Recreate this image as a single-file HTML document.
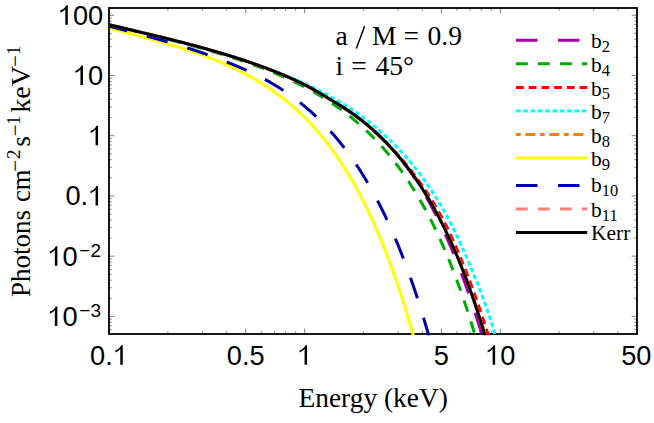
<!DOCTYPE html>
<html><head><meta charset="utf-8"><title>plot</title>
<style>
html,body{margin:0;padding:0;background:#fff;}
svg{display:block;}
text{fill:#000;}
.sans{font-family:"Liberation Sans",sans-serif;font-size:27.2px;}
.sanssup{font-family:"Liberation Sans",sans-serif;font-size:19px;}
.serif{font-family:"Liberation Serif",serif;}
.sub{font-size:16.5px;}
</style></head><body>
<svg width="654" height="423" viewBox="0 0 654 423">
<rect x="0" y="0" width="654" height="423" fill="#fff"/>
<defs><clipPath id="c"><rect x="110" y="9" width="526" height="326.3"/></clipPath></defs>

<path d="M109.00,334v-5.3M109.00,8v5.3M167.89,334v-2.7M167.89,8v2.7M202.34,334v-2.7M202.34,8v2.7M226.78,334v-2.7M226.78,8v2.7M245.74,334v-5.3M245.74,8v5.3M261.23,334v-2.7M261.23,8v2.7M274.33,334v-2.7M274.33,8v2.7M285.67,334v-2.7M285.67,8v2.7M295.68,334v-2.7M295.68,8v2.7M304.63,334v-5.3M304.63,8v5.3M363.52,334v-2.7M363.52,8v2.7M397.97,334v-2.7M397.97,8v2.7M422.41,334v-2.7M422.41,8v2.7M441.37,334v-5.3M441.37,8v5.3M456.86,334v-2.7M456.86,8v2.7M469.96,334v-2.7M469.96,8v2.7M481.30,334v-2.7M481.30,8v2.7M491.31,334v-2.7M491.31,8v2.7M500.26,334v-5.3M500.26,8v5.3M559.15,334v-2.7M559.15,8v2.7M593.60,334v-2.7M593.60,8v2.7M618.04,334v-2.7M618.04,8v2.7M637.00,334v-5.3M637.00,8v5.3M109,329.76h2.7M637,329.76h-2.7M109,325.73h2.7M637,325.73h-2.7M109,322.24h2.7M637,322.24h-2.7M109,319.16h2.7M637,319.16h-2.7M109,316.40h5.3M637,316.40h-5.3M109,298.27h2.7M637,298.27h-2.7M109,287.66h2.7M637,287.66h-2.7M109,280.14h2.7M637,280.14h-2.7M109,274.30h2.7M637,274.30h-2.7M109,269.53h2.7M637,269.53h-2.7M109,265.50h2.7M637,265.50h-2.7M109,262.01h2.7M637,262.01h-2.7M109,258.93h2.7M637,258.93h-2.7M109,256.17h5.3M637,256.17h-5.3M109,238.04h2.7M637,238.04h-2.7M109,227.43h2.7M637,227.43h-2.7M109,219.91h2.7M637,219.91h-2.7M109,214.07h2.7M637,214.07h-2.7M109,209.30h2.7M637,209.30h-2.7M109,205.27h2.7M637,205.27h-2.7M109,201.78h2.7M637,201.78h-2.7M109,198.70h2.7M637,198.70h-2.7M109,195.94h5.3M637,195.94h-5.3M109,177.81h2.7M637,177.81h-2.7M109,167.20h2.7M637,167.20h-2.7M109,159.68h2.7M637,159.68h-2.7M109,153.84h2.7M637,153.84h-2.7M109,149.07h2.7M637,149.07h-2.7M109,145.04h2.7M637,145.04h-2.7M109,141.55h2.7M637,141.55h-2.7M109,138.47h2.7M637,138.47h-2.7M109,135.71h5.3M637,135.71h-5.3M109,117.58h2.7M637,117.58h-2.7M109,106.97h2.7M637,106.97h-2.7M109,99.45h2.7M637,99.45h-2.7M109,93.61h2.7M637,93.61h-2.7M109,88.84h2.7M637,88.84h-2.7M109,84.81h2.7M637,84.81h-2.7M109,81.32h2.7M637,81.32h-2.7M109,78.24h2.7M637,78.24h-2.7M109,75.48h5.3M637,75.48h-5.3M109,57.35h2.7M637,57.35h-2.7M109,46.74h2.7M637,46.74h-2.7M109,39.22h2.7M637,39.22h-2.7M109,33.38h2.7M637,33.38h-2.7M109,28.61h2.7M637,28.61h-2.7M109,24.58h2.7M637,24.58h-2.7M109,21.09h2.7M637,21.09h-2.7M109,18.01h2.7M637,18.01h-2.7M109,15.25h5.3M637,15.25h-5.3" stroke="#000" stroke-width="0.5" fill="none"/>
<rect x="109" y="8" width="528" height="326" fill="none" stroke="#000" stroke-width="1.8"/>
<g clip-path="url(#c)" fill="none" stroke-width="3">
<path d="M109.00,24.78 L109.46,24.88 L109.91,24.98 L110.37,25.08 L110.83,25.18 L111.28,25.28 L111.74,25.38 L112.20,25.48 L112.66,25.58 L113.11,25.68 L113.57,25.79 L114.03,25.89 L114.48,25.99 L114.94,26.10 L115.40,26.20 L115.85,26.31 L116.31,26.41 L116.77,26.51 L117.23,26.62 L117.68,26.73 L118.14,26.83 L118.60,26.94 L119.05,27.04 L119.51,27.15 L119.97,27.26 L120.42,27.37 L120.88,27.47 L121.34,27.58 L121.80,27.69 L122.25,27.80 L122.71,27.91 L123.17,28.02 L123.62,28.13 L124.08,28.23 L124.54,28.34 L124.99,28.45 L125.45,28.56 L125.91,28.67 L126.37,28.78 L126.82,28.89 L127.28,29.00 L127.74,29.11 L128.19,29.22 L128.65,29.33 L129.11,29.44 L129.56,29.55 L130.02,29.66 L130.48,29.77 L130.93,29.88 L131.39,29.99 L131.85,30.11 L132.31,30.22 L132.76,30.33 L133.22,30.44 L133.68,30.55 L134.13,30.66 L134.59,30.77 L135.05,30.88 L135.50,30.99 L135.96,31.10 L136.42,31.21 L136.88,31.32 L137.33,31.43 L137.79,31.54 L138.25,31.65 L138.70,31.76 L139.16,31.87 L139.62,31.98 L140.07,32.09 L140.53,32.20 L140.99,32.31 L141.45,32.42 L141.90,32.53 L142.36,32.64 L142.82,32.75 L143.27,32.86 L143.73,32.97 L144.19,33.08 L144.64,33.19 L145.10,33.30 L145.56,33.41 L146.02,33.52 L146.47,33.63 L146.93,33.74 L147.39,33.85 L147.84,33.96 L148.30,34.07 L148.76,34.18 L149.21,34.29 L149.67,34.40 L150.13,34.50 L150.58,34.61 L151.04,34.72 L151.50,34.83 L151.96,34.94 L152.41,35.05 L152.87,35.16 L153.33,35.27 L153.78,35.38 L154.24,35.49 L154.70,35.60 L155.15,35.71 L155.61,35.82 L156.07,35.93 L156.53,36.04 L156.98,36.16 L157.44,36.27 L157.90,36.38 L158.35,36.49 L158.81,36.60 L159.27,36.71 L159.72,36.82 L160.18,36.93 L160.64,37.04 L161.10,37.15 L161.55,37.26 L162.01,37.38 L162.47,37.49 L162.92,37.60 L163.38,37.71 L163.84,37.82 L164.29,37.93 L164.75,38.05 L165.21,38.16 L165.67,38.27 L166.12,38.38 L166.58,38.50 L167.04,38.61 L167.49,38.72 L167.95,38.83 L168.41,38.95 L168.86,39.06 L169.32,39.17 L169.78,39.29 L170.24,39.40 L170.69,39.52 L171.15,39.63 L171.61,39.74 L172.06,39.86 L172.52,39.97 L172.98,40.09 L173.43,40.20 L173.89,40.32 L174.35,40.43 L174.80,40.55 L175.26,40.66 L175.72,40.78 L176.18,40.89 L176.63,41.01 L177.09,41.12 L177.55,41.24 L178.00,41.36 L178.46,41.47 L178.92,41.59 L179.37,41.71 L179.83,41.82 L180.29,41.94 L180.75,42.06 L181.20,42.17 L181.66,42.29 L182.12,42.41 L182.57,42.53 L183.03,42.65 L183.49,42.76 L183.94,42.88 L184.40,43.00 L184.86,43.12 L185.32,43.24 L185.77,43.36 L186.23,43.48 L186.69,43.60 L187.14,43.72 L187.60,43.84 L188.06,43.96 L188.51,44.08 L188.97,44.20 L189.43,44.32 L189.89,44.44 L190.34,44.56 L190.80,44.68 L191.26,44.80 L191.71,44.92 L192.17,45.04 L192.63,45.17 L193.08,45.29 L193.54,45.41 L194.00,45.53 L194.45,45.66 L194.91,45.78 L195.37,45.90 L195.83,46.02 L196.28,46.15 L196.74,46.27 L197.20,46.40 L197.65,46.52 L198.11,46.64 L198.57,46.77 L199.02,46.89 L199.48,47.02 L199.94,47.14 L200.40,47.27 L200.85,47.39 L201.31,47.52 L201.77,47.64 L202.22,47.77 L202.68,47.90 L203.14,48.02 L203.59,48.15 L204.05,48.28 L204.51,48.40 L204.97,48.53 L205.42,48.66 L205.88,48.79 L206.34,48.91 L206.79,49.04 L207.25,49.17 L207.71,49.30 L208.16,49.43 L208.62,49.56 L209.08,49.69 L209.54,49.82 L209.99,49.95 L210.45,50.08 L210.91,50.21 L211.36,50.34 L211.82,50.47 L212.28,50.60 L212.73,50.73 L213.19,50.86 L213.65,50.99 L214.10,51.13 L214.56,51.26 L215.02,51.39 L215.48,51.52 L215.93,51.66 L216.39,51.79 L216.85,51.92 L217.30,52.06 L217.76,52.19 L218.22,52.33 L218.67,52.46 L219.13,52.59 L219.59,52.73 L220.05,52.87 L220.50,53.00 L220.96,53.14 L221.42,53.27 L221.87,53.41 L222.33,53.55 L222.79,53.68 L223.24,53.82 L223.70,53.96 L224.16,54.09 L224.62,54.23 L225.07,54.37 L225.53,54.51 L225.99,54.65 L226.44,54.79 L226.90,54.93 L227.36,55.07 L227.81,55.21 L228.27,55.35 L228.73,55.49 L229.19,55.63 L229.64,55.77 L230.10,55.91 L230.56,56.05 L231.01,56.19 L231.47,56.34 L231.93,56.48 L232.38,56.62 L232.84,56.77 L233.30,56.91 L233.75,57.05 L234.21,57.20 L234.67,57.34 L235.13,57.49 L235.58,57.63 L236.04,57.78 L236.50,57.92 L236.95,58.07 L237.41,58.22 L237.87,58.36 L238.32,58.51 L238.78,58.66 L239.24,58.80 L239.70,58.95 L240.15,59.10 L240.61,59.25 L241.07,59.40 L241.52,59.55 L241.98,59.70 L242.44,59.85 L242.89,60.00 L243.35,60.15 L243.81,60.30 L244.27,60.45 L244.72,60.60 L245.18,60.76 L245.64,60.91 L246.09,61.06 L246.55,61.21 L247.01,61.37 L247.46,61.52 L247.92,61.68 L248.38,61.83 L248.84,61.99 L249.29,62.14 L249.75,62.30 L250.21,62.45 L250.66,62.61 L251.12,62.77 L251.58,62.93 L252.03,63.08 L252.49,63.24 L252.95,63.40 L253.40,63.56 L253.86,63.72 L254.32,63.88 L254.78,64.04 L255.23,64.20 L255.69,64.36 L256.15,64.52 L256.60,64.68 L257.06,64.85 L257.52,65.01 L257.97,65.17 L258.43,65.33 L258.89,65.50 L259.35,65.66 L259.80,65.83 L260.26,65.99 L260.72,66.16 L261.17,66.32 L261.63,66.49 L262.09,66.66 L262.54,66.83 L263.00,66.99 L263.46,67.16 L263.92,67.33 L264.37,67.50 L264.83,67.67 L265.29,67.84 L265.74,68.01 L266.20,68.18 L266.66,68.35 L267.11,68.52 L267.57,68.70 L268.03,68.87 L268.49,69.04 L268.94,69.22 L269.40,69.39 L269.86,69.57 L270.31,69.74 L270.77,69.92 L271.23,70.09 L271.68,70.27 L272.14,70.45 L272.60,70.63 L273.06,70.80 L273.51,70.98 L273.97,71.16 L274.43,71.34 L274.88,71.52 L275.34,71.71 L275.80,71.89 L276.25,72.07 L276.71,72.25 L277.17,72.43 L277.62,72.62 L278.08,72.80 L278.54,72.99 L279.00,73.17 L279.45,73.36 L279.91,73.55 L280.37,73.73 L280.82,73.92 L281.28,74.11 L281.74,74.30 L282.19,74.49 L282.65,74.68 L283.11,74.87 L283.57,75.06 L284.02,75.25 L284.48,75.45 L284.94,75.64 L285.39,75.84 L285.85,76.03 L286.31,76.23 L286.76,76.42 L287.22,76.62 L287.68,76.82 L288.14,77.02 L288.59,77.21 L289.05,77.41 L289.51,77.62 L289.96,77.82 L290.42,78.02 L290.88,78.22 L291.33,78.43 L291.79,78.63 L292.25,78.84 L292.71,79.04 L293.16,79.25 L293.62,79.46 L294.08,79.67 L294.53,79.88 L294.99,80.09 L295.45,80.30 L295.90,80.51 L296.36,80.73 L296.82,80.94 L297.27,81.15 L297.73,81.37 L298.19,81.59 L298.65,81.81 L299.10,82.03 L299.56,82.25 L300.02,82.47 L300.47,82.69 L300.93,82.92 L301.39,83.14 L301.84,83.37 L302.30,83.59 L302.76,83.82 L303.22,84.05 L303.67,84.28 L304.13,84.51 L304.59,84.75 L305.04,84.98 L305.50,85.21 L305.96,85.45 L306.41,85.69 L306.87,85.93 L307.33,86.17 L307.79,86.41 L308.24,86.65 L308.70,86.89 L309.16,87.14 L309.61,87.38 L310.07,87.63 L310.53,87.88 L310.98,88.13 L311.44,88.38 L311.90,88.63 L312.36,88.88 L312.81,89.13 L313.27,89.39 L313.73,89.64 L314.18,89.90 L314.64,90.16 L315.10,90.42 L315.55,90.68 L316.01,90.94 L316.47,91.20 L316.92,91.46 L317.38,91.72 L317.84,91.99 L318.30,92.25 L318.75,92.52 L319.21,92.78 L319.67,93.05 L320.12,93.32 L320.58,93.59 L321.04,93.86 L321.49,94.13 L321.95,94.40 L322.41,94.67 L322.87,94.94 L323.32,95.21 L323.78,95.49 L324.24,95.76 L324.69,96.03 L325.15,96.31 L325.61,96.58 L326.06,96.86 L326.52,97.13 L326.98,97.41 L327.44,97.68 L327.89,97.96 L328.35,98.23 L328.81,98.51 L329.26,98.79 L329.72,99.06 L330.18,99.34 L330.63,99.62 L331.09,99.90 L331.55,100.17 L332.01,100.45 L332.46,100.73 L332.92,101.01 L333.38,101.29 L333.83,101.57 L334.29,101.85 L334.75,102.13 L335.20,102.41 L335.66,102.69 L336.12,102.97 L336.57,103.25 L337.03,103.53 L337.49,103.82 L337.95,104.10 L338.40,104.38 L338.86,104.67 L339.32,104.95 L339.77,105.24 L340.23,105.52 L340.69,105.81 L341.14,106.10 L341.60,106.38 L342.06,106.67 L342.52,106.96 L342.97,107.25 L343.43,107.54 L343.89,107.84 L344.34,108.13 L344.80,108.43 L345.26,108.72 L345.71,109.02 L346.17,109.32 L346.63,109.62 L347.09,109.92 L347.54,110.22 L348.00,110.52 L348.46,110.83 L348.91,111.13 L349.37,111.44 L349.83,111.75 L350.28,112.06 L350.74,112.37 L351.20,112.69 L351.66,113.00 L352.11,113.32 L352.57,113.64 L353.03,113.96 L353.48,114.29 L353.94,114.61 L354.40,114.94 L354.85,115.26 L355.31,115.59 L355.77,115.93 L356.22,116.26 L356.68,116.60 L357.14,116.93 L357.60,117.27 L358.05,117.62 L358.51,117.96 L358.97,118.30 L359.42,118.65 L359.88,119.00 L360.34,119.35 L360.79,119.71 L361.25,120.06 L361.71,120.42 L362.17,120.78 L362.62,121.14 L363.08,121.51 L363.54,121.87 L363.99,122.24 L364.45,122.61 L364.91,122.98 L365.36,123.36 L365.82,123.73 L366.28,124.11 L366.74,124.49 L367.19,124.87 L367.65,125.26 L368.11,125.64 L368.56,126.03 L369.02,126.42 L369.48,126.82 L369.93,127.21 L370.39,127.61 L370.85,128.01 L371.31,128.41 L371.76,128.81 L372.22,129.22 L372.68,129.62 L373.13,130.03 L373.59,130.44 L374.05,130.86 L374.50,131.27 L374.96,131.69 L375.42,132.11 L375.88,132.53 L376.33,132.96 L376.79,133.39 L377.25,133.81 L377.70,134.24 L378.16,134.68 L378.62,135.11 L379.07,135.55 L379.53,135.99 L379.99,136.43 L380.44,136.88 L380.90,137.32 L381.36,137.77 L381.82,138.22 L382.27,138.67 L382.73,139.13 L383.19,139.59 L383.64,140.05 L384.10,140.51 L384.56,140.97 L385.01,141.44 L385.47,141.91 L385.93,142.38 L386.39,142.85 L386.84,143.33 L387.30,143.81 L387.76,144.29 L388.21,144.77 L388.67,145.26 L389.13,145.74 L389.58,146.23 L390.04,146.73 L390.50,147.22 L390.96,147.72 L391.41,148.22 L391.87,148.72 L392.33,149.23 L392.78,149.74 L393.24,150.25 L393.68,150.76 L394.13,151.28 L394.58,151.79 L395.02,152.31 L395.47,152.84 L395.91,153.36 L396.36,153.89 L396.81,154.42 L397.25,154.96 L397.70,155.50 L398.15,156.04 L398.59,156.58 L399.04,157.12 L399.48,157.67 L399.93,158.22 L400.38,158.78 L400.82,159.33 L401.27,159.89 L401.71,160.45 L402.16,161.02 L402.60,161.59 L403.05,162.16 L403.50,162.73 L403.94,163.31 L404.39,163.89 L404.83,164.47 L405.28,165.06 L405.72,165.65 L406.17,166.24 L406.61,166.83 L407.06,167.43 L407.50,168.03 L407.95,168.64 L408.39,169.24 L408.84,169.86 L409.28,170.47 L409.73,171.09 L410.17,171.71 L410.62,172.33 L411.06,172.96 L411.50,173.59 L411.95,174.22 L412.39,174.86 L412.83,175.50 L413.27,176.14 L413.70,176.79 L414.14,177.44 L414.58,178.09 L415.01,178.75 L415.45,179.41 L415.89,180.08 L416.32,180.75 L416.76,181.42 L417.19,182.09 L417.63,182.77 L418.07,183.45 L418.50,184.14 L418.94,184.83 L419.37,185.52 L419.81,186.22 L420.24,186.92 L420.68,187.63 L421.11,188.34 L421.55,189.05 L421.98,189.76 L422.41,190.48 L422.85,191.21 L423.28,191.94 L423.72,192.67 L424.15,193.40 L424.58,194.14 L425.02,194.89 L425.45,195.63 L425.88,196.39 L426.32,197.14 L426.75,197.90 L427.18,198.67 L427.62,199.44 L428.05,200.21 L428.48,200.98 L428.91,201.77 L429.35,202.55 L429.78,203.34 L430.21,204.13 L430.64,204.93 L431.07,205.74 L431.51,206.54 L431.94,207.35 L432.37,208.17 L432.80,208.99 L433.23,209.82 L433.67,210.65 L434.11,211.48 L434.55,212.32 L434.99,213.16 L435.43,214.01 L435.87,214.86 L436.31,215.72 L436.75,216.58 L437.19,217.45 L437.63,218.32 L438.07,219.20 L438.51,220.08 L438.95,220.97 L439.39,221.86 L439.82,222.76 L440.26,223.66 L440.70,224.56 L441.14,225.48 L441.58,226.39 L442.02,227.32 L442.46,228.24 L442.90,229.17 L443.33,230.11 L443.77,231.06 L444.21,232.00 L444.65,232.96 L445.09,233.92 L445.52,234.88 L445.96,235.85 L446.40,236.82 L446.84,237.81 L447.27,238.79 L447.71,239.78 L448.15,240.78 L448.58,241.78 L449.02,242.79 L449.46,243.81 L449.89,244.83 L450.33,245.85 L450.77,246.88 L451.20,247.92 L451.64,248.97 L452.08,250.02 L452.52,251.07 L452.97,252.13 L453.41,253.20 L453.86,254.27 L454.31,255.35 L454.75,256.44 L455.20,257.53 L455.64,258.63 L456.09,259.73 L456.54,260.85 L456.98,261.96 L457.43,263.09 L457.87,264.22 L458.32,265.35 L458.76,266.50 L459.21,267.65 L459.66,268.80 L460.10,269.97 L460.55,271.14 L460.99,272.31 L461.44,273.50 L461.88,274.69 L462.33,275.88 L462.77,277.09 L463.22,278.30 L463.66,279.52 L464.11,280.74 L464.55,281.97 L465.00,283.21 L465.44,284.46 L465.88,285.71 L466.33,286.97 L466.77,288.24 L467.22,289.52 L467.67,290.80 L468.13,292.09 L468.58,293.39 L469.04,294.69 L469.50,296.01 L469.95,297.33 L470.41,298.66 L470.87,299.99 L471.33,301.34 L471.78,302.69 L472.24,304.05 L472.70,305.41 L473.15,306.79 L473.61,308.17 L474.07,309.57 L474.52,310.97 L474.98,312.37 L475.44,313.79 L475.90,315.21 L476.35,316.65 L476.81,318.09 L477.27,319.54 L477.72,321.00 L478.18,322.46 L478.64,323.94 L479.09,325.42 L479.55,326.92 L480.01,328.42 L480.46,329.93 L480.92,331.45 L481.38,332.98 L481.84,334.52 L482.29,336.06 L482.75,337.62 L483.21,339.18 L483.66,340.76" stroke="#aa00aa" stroke-dasharray="21.5 20.5" stroke-dashoffset="4.88"/>
<path d="M109.00,25.22 L109.46,25.32 L109.91,25.43 L110.37,25.53 L110.83,25.64 L111.28,25.74 L111.74,25.85 L112.20,25.96 L112.66,26.06 L113.11,26.17 L113.57,26.27 L114.03,26.38 L114.48,26.48 L114.94,26.59 L115.40,26.70 L115.85,26.80 L116.31,26.91 L116.77,27.01 L117.23,27.12 L117.68,27.23 L118.14,27.33 L118.60,27.44 L119.05,27.55 L119.51,27.65 L119.97,27.76 L120.42,27.87 L120.88,27.97 L121.34,28.08 L121.80,28.19 L122.25,28.29 L122.71,28.40 L123.17,28.51 L123.62,28.61 L124.08,28.72 L124.54,28.83 L124.99,28.94 L125.45,29.04 L125.91,29.15 L126.37,29.26 L126.82,29.37 L127.28,29.47 L127.74,29.58 L128.19,29.69 L128.65,29.80 L129.11,29.90 L129.56,30.01 L130.02,30.12 L130.48,30.23 L130.93,30.34 L131.39,30.44 L131.85,30.55 L132.31,30.66 L132.76,30.77 L133.22,30.88 L133.68,30.99 L134.13,31.10 L134.59,31.20 L135.05,31.31 L135.50,31.42 L135.96,31.53 L136.42,31.64 L136.88,31.75 L137.33,31.86 L137.79,31.97 L138.25,32.08 L138.70,32.19 L139.16,32.30 L139.62,32.41 L140.07,32.51 L140.53,32.62 L140.99,32.73 L141.45,32.84 L141.90,32.95 L142.36,33.06 L142.82,33.17 L143.27,33.29 L143.73,33.40 L144.19,33.51 L144.64,33.62 L145.10,33.73 L145.56,33.84 L146.02,33.95 L146.47,34.06 L146.93,34.17 L147.39,34.28 L147.84,34.39 L148.30,34.50 L148.76,34.62 L149.21,34.73 L149.67,34.84 L150.13,34.95 L150.58,35.06 L151.04,35.17 L151.50,35.29 L151.96,35.40 L152.41,35.51 L152.87,35.62 L153.33,35.74 L153.78,35.85 L154.24,35.96 L154.70,36.07 L155.15,36.19 L155.61,36.30 L156.07,36.41 L156.53,36.53 L156.98,36.64 L157.44,36.75 L157.90,36.87 L158.35,36.98 L158.81,37.09 L159.27,37.21 L159.72,37.32 L160.18,37.43 L160.64,37.55 L161.10,37.66 L161.55,37.78 L162.01,37.89 L162.47,38.01 L162.92,38.12 L163.38,38.24 L163.84,38.35 L164.29,38.47 L164.75,38.58 L165.21,38.70 L165.67,38.81 L166.12,38.93 L166.58,39.04 L167.04,39.16 L167.49,39.28 L167.95,39.39 L168.41,39.51 L168.86,39.62 L169.32,39.74 L169.78,39.86 L170.24,39.97 L170.69,40.09 L171.15,40.21 L171.61,40.33 L172.06,40.44 L172.52,40.56 L172.98,40.68 L173.43,40.80 L173.89,40.91 L174.35,41.03 L174.80,41.15 L175.26,41.27 L175.72,41.39 L176.18,41.51 L176.63,41.62 L177.09,41.74 L177.55,41.86 L178.00,41.98 L178.46,42.10 L178.92,42.22 L179.37,42.34 L179.83,42.46 L180.29,42.58 L180.75,42.70 L181.20,42.82 L181.66,42.94 L182.12,43.06 L182.57,43.18 L183.03,43.30 L183.49,43.43 L183.94,43.55 L184.40,43.67 L184.86,43.79 L185.32,43.91 L185.77,44.03 L186.23,44.16 L186.69,44.28 L187.14,44.40 L187.60,44.52 L188.06,44.65 L188.51,44.77 L188.97,44.89 L189.43,45.02 L189.89,45.14 L190.34,45.26 L190.80,45.39 L191.26,45.51 L191.71,45.64 L192.17,45.76 L192.63,45.89 L193.08,46.01 L193.54,46.14 L194.00,46.26 L194.45,46.39 L194.91,46.51 L195.37,46.64 L195.83,46.77 L196.28,46.89 L196.74,47.02 L197.20,47.15 L197.65,47.27 L198.11,47.40 L198.57,47.53 L199.02,47.65 L199.48,47.78 L199.94,47.91 L200.40,48.04 L200.85,48.17 L201.31,48.30 L201.77,48.42 L202.22,48.55 L202.68,48.68 L203.14,48.81 L203.59,48.94 L204.05,49.07 L204.51,49.20 L204.97,49.33 L205.42,49.46 L205.88,49.59 L206.34,49.72 L206.79,49.86 L207.25,49.99 L207.71,50.12 L208.16,50.25 L208.62,50.38 L209.08,50.52 L209.54,50.65 L209.99,50.78 L210.45,50.92 L210.91,51.05 L211.36,51.18 L211.82,51.32 L212.28,51.45 L212.73,51.59 L213.19,51.72 L213.65,51.86 L214.10,51.99 L214.56,52.13 L215.02,52.26 L215.48,52.40 L215.93,52.53 L216.39,52.67 L216.85,52.81 L217.30,52.95 L217.76,53.08 L218.22,53.22 L218.67,53.36 L219.13,53.50 L219.59,53.64 L220.05,53.77 L220.50,53.91 L220.96,54.05 L221.42,54.19 L221.87,54.33 L222.33,54.47 L222.79,54.61 L223.24,54.75 L223.70,54.90 L224.16,55.04 L224.62,55.18 L225.07,55.32 L225.53,55.46 L225.99,55.61 L226.44,55.75 L226.90,55.89 L227.36,56.04 L227.81,56.18 L228.27,56.32 L228.73,56.47 L229.19,56.61 L229.64,56.76 L230.10,56.90 L230.56,57.05 L231.01,57.20 L231.47,57.34 L231.93,57.49 L232.38,57.64 L232.84,57.78 L233.30,57.93 L233.75,58.08 L234.21,58.23 L234.67,58.38 L235.13,58.53 L235.58,58.68 L236.04,58.83 L236.50,58.98 L236.95,59.13 L237.41,59.28 L237.87,59.43 L238.32,59.58 L238.78,59.74 L239.24,59.89 L239.70,60.04 L240.15,60.19 L240.61,60.35 L241.07,60.50 L241.52,60.66 L241.98,60.81 L242.44,60.97 L242.89,61.12 L243.35,61.28 L243.81,61.43 L244.27,61.59 L244.72,61.75 L245.18,61.91 L245.64,62.06 L246.09,62.22 L246.55,62.38 L247.01,62.54 L247.46,62.70 L247.92,62.86 L248.38,63.02 L248.84,63.18 L249.29,63.34 L249.75,63.50 L250.21,63.67 L250.66,63.83 L251.12,63.99 L251.58,64.16 L252.03,64.32 L252.49,64.48 L252.95,64.65 L253.40,64.81 L253.86,64.98 L254.32,65.15 L254.78,65.31 L255.23,65.48 L255.69,65.65 L256.15,65.82 L256.60,65.98 L257.06,66.15 L257.52,66.32 L257.97,66.49 L258.43,66.66 L258.89,66.83 L259.35,67.01 L259.80,67.18 L260.26,67.35 L260.72,67.52 L261.17,67.70 L261.63,67.87 L262.09,68.05 L262.54,68.22 L263.00,68.40 L263.46,68.57 L263.92,68.75 L264.37,68.93 L264.83,69.10 L265.29,69.28 L265.74,69.46 L266.20,69.64 L266.66,69.82 L267.11,70.00 L267.57,70.18 L268.03,70.36 L268.49,70.54 L268.94,70.73 L269.40,70.91 L269.86,71.09 L270.31,71.28 L270.77,71.46 L271.23,71.65 L271.68,71.83 L272.14,72.02 L272.60,72.21 L273.06,72.39 L273.51,72.58 L273.97,72.77 L274.43,72.96 L274.88,73.15 L275.34,73.34 L275.80,73.53 L276.25,73.73 L276.71,73.92 L277.17,74.11 L277.62,74.31 L278.08,74.50 L278.54,74.69 L279.00,74.89 L279.45,75.09 L279.91,75.28 L280.37,75.48 L280.82,75.68 L281.28,75.88 L281.74,76.08 L282.19,76.28 L282.65,76.48 L283.11,76.68 L283.57,76.88 L284.02,77.09 L284.48,77.29 L284.94,77.50 L285.39,77.70 L285.85,77.91 L286.31,78.11 L286.76,78.32 L287.22,78.53 L287.68,78.74 L288.14,78.95 L288.59,79.16 L289.05,79.37 L289.51,79.58 L289.96,79.79 L290.42,80.01 L290.88,80.22 L291.33,80.44 L291.79,80.65 L292.25,80.87 L292.71,81.08 L293.16,81.30 L293.62,81.52 L294.08,81.74 L294.53,81.96 L294.99,82.18 L295.45,82.40 L295.90,82.63 L296.36,82.85 L296.82,83.07 L297.27,83.30 L297.73,83.52 L298.19,83.75 L298.65,83.98 L299.10,84.21 L299.56,84.44 L300.02,84.67 L300.47,84.90 L300.93,85.13 L301.39,85.36 L301.84,85.60 L302.30,85.83 L302.76,86.07 L303.22,86.30 L303.67,86.54 L304.13,86.78 L304.59,87.02 L305.04,87.26 L305.50,87.50 L305.96,87.74 L306.41,87.98 L306.87,88.22 L307.33,88.47 L307.79,88.71 L308.24,88.96 L308.70,89.21 L309.16,89.46 L309.61,89.71 L310.07,89.96 L310.53,90.21 L310.98,90.46 L311.44,90.71 L311.90,90.97 L312.36,91.22 L312.81,91.48 L313.27,91.74 L313.73,92.00 L314.18,92.25 L314.64,92.52 L315.10,92.78 L315.55,93.04 L316.01,93.30 L316.47,93.57 L316.92,93.83 L317.38,94.10 L317.84,94.37 L318.30,94.64 L318.75,94.91 L319.21,95.18 L319.67,95.45 L320.12,95.72 L320.58,96.00 L321.04,96.28 L321.49,96.55 L321.95,96.83 L322.41,97.11 L322.87,97.39 L323.32,97.67 L323.78,97.95 L324.24,98.24 L324.69,98.52 L325.15,98.81 L325.61,99.10 L326.06,99.39 L326.52,99.68 L326.98,99.97 L327.44,100.26 L327.89,100.55 L328.35,100.85 L328.81,101.14 L329.26,101.44 L329.72,101.74 L330.18,102.04 L330.63,102.34 L331.09,102.64 L331.55,102.95 L332.01,103.25 L332.46,103.56 L332.92,103.87 L333.38,104.18 L333.83,104.49 L334.29,104.80 L334.75,105.11 L335.20,105.43 L335.66,105.74 L336.12,106.06 L336.57,106.38 L337.03,106.70 L337.49,107.02 L337.95,107.35 L338.40,107.67 L338.86,108.00 L339.32,108.32 L339.77,108.65 L340.23,108.98 L340.69,109.31 L341.14,109.65 L341.60,109.98 L342.06,110.32 L342.52,110.66 L342.97,111.00 L343.43,111.34 L343.89,111.68 L344.34,112.02 L344.80,112.37 L345.26,112.72 L345.71,113.06 L346.17,113.42 L346.63,113.77 L347.09,114.12 L347.54,114.48 L348.00,114.83 L348.46,115.19 L348.91,115.55 L349.37,115.91 L349.83,116.28 L350.28,116.64 L350.74,117.01 L351.20,117.38 L351.66,117.75 L352.11,118.12 L352.57,118.49 L353.03,118.87 L353.48,119.24 L353.94,119.62 L354.40,120.00 L354.85,120.39 L355.31,120.77 L355.77,121.16 L356.22,121.55 L356.68,121.93 L357.14,122.33 L357.60,122.72 L358.05,123.12 L358.51,123.51 L358.97,123.91 L359.42,124.31 L359.88,124.72 L360.34,125.12 L360.79,125.53 L361.25,125.94 L361.71,126.35 L362.17,126.76 L362.62,127.17 L363.08,127.59 L363.54,128.01 L363.99,128.43 L364.45,128.85 L364.91,129.28 L365.36,129.70 L365.82,130.13 L366.28,130.56 L366.74,131.00 L367.19,131.43 L367.65,131.87 L368.11,132.31 L368.56,132.75 L369.02,133.19 L369.48,133.64 L369.93,134.09 L370.39,134.54 L370.85,134.99 L371.31,135.44 L371.76,135.90 L372.22,136.36 L372.68,136.82 L373.13,137.28 L373.59,137.75 L374.05,138.22 L374.50,138.69 L374.96,139.16 L375.42,139.64 L375.88,140.11 L376.33,140.59 L376.79,141.08 L377.25,141.56 L377.70,142.05 L378.16,142.54 L378.62,143.03 L379.07,143.52 L379.53,144.02 L379.99,144.52 L380.44,145.02 L380.90,145.53 L381.36,146.04 L381.82,146.54 L382.27,147.06 L382.73,147.57 L383.19,148.09 L383.64,148.61 L384.10,149.13 L384.56,149.66 L385.01,150.19 L385.47,150.72 L385.93,151.25 L386.39,151.79 L386.84,152.32 L387.30,152.87 L387.76,153.41 L388.21,153.96 L388.67,154.51 L389.13,155.06 L389.58,155.62 L390.04,156.17 L390.50,156.74 L390.96,157.30 L391.41,157.87 L391.87,158.44 L392.33,159.01 L392.78,159.59 L393.24,160.17 L393.70,160.75 L394.15,161.33 L394.61,161.92 L395.07,162.51 L395.53,163.11 L395.98,163.70 L396.44,164.30 L396.90,164.91 L397.35,165.51 L397.81,166.12 L398.27,166.74 L398.72,167.35 L399.18,167.97 L399.64,168.59 L400.09,169.22 L400.55,169.85 L401.01,170.48 L401.47,171.12 L401.92,171.76 L402.38,172.40 L402.84,173.04 L403.29,173.69 L403.75,174.35 L404.21,175.00 L404.66,175.66 L405.12,176.33 L405.58,176.99 L406.04,177.66 L406.49,178.34 L406.95,179.01 L407.41,179.69 L407.86,180.38 L408.32,181.07 L408.78,181.76 L409.23,182.45 L409.69,183.15 L410.15,183.86 L410.61,184.56 L411.06,185.27 L411.52,185.99 L411.98,186.70 L412.43,187.43 L412.89,188.15 L413.35,188.88 L413.80,189.62 L414.26,190.35 L414.72,191.09 L415.18,191.84 L415.63,192.59 L416.09,193.34 L416.55,194.10 L417.00,194.86 L417.46,195.63 L417.92,196.40 L418.37,197.17 L418.83,197.95 L419.29,198.73 L419.74,199.52 L420.20,200.31 L420.66,201.10 L421.12,201.90 L421.57,202.71 L422.03,203.52 L422.49,204.33 L422.94,205.14 L423.40,205.97 L423.86,206.79 L424.31,207.62 L424.77,208.46 L425.23,209.30 L425.69,210.14 L426.14,210.99 L426.60,211.84 L427.06,212.70 L427.51,213.56 L427.97,214.43 L428.43,215.30 L428.88,216.18 L429.34,217.06 L429.80,217.95 L430.26,218.84 L430.71,219.73 L431.17,220.63 L431.63,221.54 L432.08,222.45 L432.54,223.37 L433.00,224.29 L433.45,225.22 L433.91,226.15 L434.37,227.08 L434.83,228.02 L435.28,228.97 L435.74,229.92 L436.20,230.88 L436.65,231.84 L437.11,232.81 L437.57,233.78 L438.02,234.76 L438.48,235.75 L438.94,236.74 L439.39,237.73 L439.85,238.73 L440.31,239.74 L440.77,240.75 L441.22,241.77 L441.68,242.79 L442.14,243.82 L442.59,244.85 L443.05,245.89 L443.51,246.94 L443.96,247.99 L444.42,249.05 L444.88,250.11 L445.34,251.18 L445.79,252.26 L446.25,253.34 L446.71,254.43 L447.16,255.52 L447.62,256.62 L448.08,257.73 L448.53,258.84 L448.99,259.96 L449.45,261.08 L449.91,262.21 L450.36,263.35 L450.82,264.49 L451.28,265.64 L451.73,266.80 L452.19,267.96 L452.65,269.13 L453.10,270.31 L453.56,271.49 L454.02,272.68 L454.48,273.87 L454.93,275.08 L455.39,276.29 L455.85,277.50 L456.30,278.73 L456.76,279.96 L457.22,281.19 L457.67,282.44 L458.13,283.69 L458.59,284.95 L459.04,286.21 L459.50,287.49 L459.96,288.77 L460.42,290.05 L460.87,291.35 L461.33,292.65 L461.79,293.96 L462.24,295.27 L462.70,296.60 L463.16,297.93 L463.61,299.27 L464.07,300.61 L464.53,301.97 L464.99,303.33 L465.44,304.70 L465.90,306.08 L466.36,307.46 L466.81,308.86 L467.27,310.26 L467.73,311.67 L468.18,313.08 L468.64,314.51 L469.10,315.94 L469.56,317.38 L470.01,318.83 L470.47,320.29 L470.93,321.76 L471.38,323.23 L471.84,324.71 L472.30,326.21 L472.75,327.71 L473.21,329.21 L473.67,330.73 L474.13,332.26 L474.58,333.79 L475.04,335.34 L475.50,336.89 L475.95,338.45 L476.41,340.02 L476.87,341.60" stroke="#00aa00" stroke-dasharray="11.8 10.2" stroke-dashoffset="4.65"/>
<path d="M109.00,24.78 L109.46,24.88 L109.91,24.98 L110.37,25.08 L110.83,25.18 L111.28,25.28 L111.74,25.38 L112.20,25.48 L112.66,25.58 L113.11,25.68 L113.57,25.79 L114.03,25.89 L114.48,25.99 L114.94,26.10 L115.40,26.20 L115.85,26.31 L116.31,26.41 L116.77,26.51 L117.23,26.62 L117.68,26.73 L118.14,26.83 L118.60,26.94 L119.05,27.04 L119.51,27.15 L119.97,27.26 L120.42,27.37 L120.88,27.47 L121.34,27.58 L121.80,27.69 L122.25,27.80 L122.71,27.91 L123.17,28.02 L123.62,28.13 L124.08,28.23 L124.54,28.34 L124.99,28.45 L125.45,28.56 L125.91,28.67 L126.37,28.78 L126.82,28.89 L127.28,29.00 L127.74,29.11 L128.19,29.22 L128.65,29.33 L129.11,29.44 L129.56,29.55 L130.02,29.66 L130.48,29.77 L130.93,29.88 L131.39,29.99 L131.85,30.11 L132.31,30.22 L132.76,30.33 L133.22,30.44 L133.68,30.55 L134.13,30.66 L134.59,30.77 L135.05,30.88 L135.50,30.99 L135.96,31.10 L136.42,31.21 L136.88,31.32 L137.33,31.43 L137.79,31.54 L138.25,31.65 L138.70,31.76 L139.16,31.87 L139.62,31.98 L140.07,32.09 L140.53,32.20 L140.99,32.31 L141.45,32.42 L141.90,32.53 L142.36,32.64 L142.82,32.75 L143.27,32.86 L143.73,32.97 L144.19,33.08 L144.64,33.19 L145.10,33.30 L145.56,33.41 L146.02,33.52 L146.47,33.63 L146.93,33.74 L147.39,33.85 L147.84,33.96 L148.30,34.07 L148.76,34.18 L149.21,34.29 L149.67,34.40 L150.13,34.50 L150.58,34.61 L151.04,34.72 L151.50,34.83 L151.96,34.94 L152.41,35.05 L152.87,35.16 L153.33,35.27 L153.78,35.38 L154.24,35.49 L154.70,35.60 L155.15,35.71 L155.61,35.82 L156.07,35.93 L156.53,36.04 L156.98,36.16 L157.44,36.27 L157.90,36.38 L158.35,36.49 L158.81,36.60 L159.27,36.71 L159.72,36.82 L160.18,36.93 L160.64,37.04 L161.10,37.15 L161.55,37.26 L162.01,37.38 L162.47,37.49 L162.92,37.60 L163.38,37.71 L163.84,37.82 L164.29,37.93 L164.75,38.05 L165.21,38.16 L165.67,38.27 L166.12,38.38 L166.58,38.50 L167.04,38.61 L167.49,38.72 L167.95,38.83 L168.41,38.95 L168.86,39.06 L169.32,39.17 L169.78,39.29 L170.24,39.40 L170.69,39.52 L171.15,39.63 L171.61,39.74 L172.06,39.86 L172.52,39.97 L172.98,40.09 L173.43,40.20 L173.89,40.32 L174.35,40.43 L174.80,40.55 L175.26,40.66 L175.72,40.78 L176.18,40.89 L176.63,41.01 L177.09,41.12 L177.55,41.24 L178.00,41.36 L178.46,41.47 L178.92,41.59 L179.37,41.71 L179.83,41.82 L180.29,41.94 L180.75,42.06 L181.20,42.17 L181.66,42.29 L182.12,42.41 L182.57,42.53 L183.03,42.65 L183.49,42.76 L183.94,42.88 L184.40,43.00 L184.86,43.12 L185.32,43.24 L185.77,43.36 L186.23,43.48 L186.69,43.60 L187.14,43.72 L187.60,43.84 L188.06,43.96 L188.51,44.08 L188.97,44.20 L189.43,44.32 L189.89,44.44 L190.34,44.56 L190.80,44.68 L191.26,44.80 L191.71,44.92 L192.17,45.04 L192.63,45.17 L193.08,45.29 L193.54,45.41 L194.00,45.53 L194.45,45.66 L194.91,45.78 L195.37,45.90 L195.83,46.02 L196.28,46.15 L196.74,46.27 L197.20,46.40 L197.65,46.52 L198.11,46.64 L198.57,46.77 L199.02,46.89 L199.48,47.02 L199.94,47.14 L200.40,47.27 L200.85,47.39 L201.31,47.52 L201.77,47.64 L202.22,47.77 L202.68,47.90 L203.14,48.02 L203.59,48.15 L204.05,48.28 L204.51,48.40 L204.97,48.53 L205.42,48.66 L205.88,48.79 L206.34,48.91 L206.79,49.04 L207.25,49.17 L207.71,49.30 L208.16,49.43 L208.62,49.56 L209.08,49.69 L209.54,49.82 L209.99,49.95 L210.45,50.08 L210.91,50.21 L211.36,50.34 L211.82,50.47 L212.28,50.60 L212.73,50.73 L213.19,50.86 L213.65,50.99 L214.10,51.13 L214.56,51.26 L215.02,51.39 L215.48,51.52 L215.93,51.66 L216.39,51.79 L216.85,51.92 L217.30,52.06 L217.76,52.19 L218.22,52.33 L218.67,52.46 L219.13,52.59 L219.59,52.73 L220.05,52.87 L220.50,53.00 L220.96,53.14 L221.42,53.27 L221.87,53.41 L222.33,53.55 L222.79,53.68 L223.24,53.82 L223.70,53.96 L224.16,54.09 L224.62,54.23 L225.07,54.37 L225.53,54.51 L225.99,54.65 L226.44,54.79 L226.90,54.93 L227.36,55.07 L227.81,55.21 L228.27,55.35 L228.73,55.49 L229.19,55.63 L229.64,55.77 L230.10,55.91 L230.56,56.05 L231.01,56.19 L231.47,56.34 L231.93,56.48 L232.38,56.62 L232.84,56.77 L233.30,56.91 L233.75,57.05 L234.21,57.20 L234.67,57.34 L235.13,57.49 L235.58,57.63 L236.04,57.78 L236.50,57.92 L236.95,58.07 L237.41,58.22 L237.87,58.36 L238.32,58.51 L238.78,58.66 L239.24,58.80 L239.70,58.95 L240.15,59.10 L240.61,59.25 L241.07,59.40 L241.52,59.55 L241.98,59.70 L242.44,59.85 L242.89,60.00 L243.35,60.15 L243.81,60.30 L244.27,60.45 L244.72,60.60 L245.18,60.76 L245.64,60.91 L246.09,61.06 L246.55,61.21 L247.01,61.37 L247.46,61.52 L247.92,61.68 L248.38,61.83 L248.84,61.99 L249.29,62.14 L249.75,62.30 L250.21,62.45 L250.66,62.61 L251.12,62.77 L251.58,62.93 L252.03,63.08 L252.49,63.24 L252.95,63.40 L253.40,63.56 L253.86,63.72 L254.32,63.88 L254.78,64.04 L255.23,64.20 L255.69,64.36 L256.15,64.52 L256.60,64.68 L257.06,64.85 L257.52,65.01 L257.97,65.17 L258.43,65.33 L258.89,65.50 L259.35,65.66 L259.80,65.83 L260.26,65.99 L260.72,66.16 L261.17,66.32 L261.63,66.49 L262.09,66.66 L262.54,66.83 L263.00,66.99 L263.46,67.16 L263.92,67.33 L264.37,67.50 L264.83,67.67 L265.29,67.84 L265.74,68.01 L266.20,68.18 L266.66,68.35 L267.11,68.52 L267.57,68.70 L268.03,68.87 L268.49,69.04 L268.94,69.22 L269.40,69.39 L269.86,69.57 L270.31,69.74 L270.77,69.92 L271.23,70.09 L271.68,70.27 L272.14,70.45 L272.60,70.63 L273.06,70.80 L273.51,70.98 L273.97,71.16 L274.43,71.34 L274.88,71.52 L275.34,71.71 L275.80,71.89 L276.25,72.07 L276.71,72.25 L277.17,72.43 L277.62,72.62 L278.08,72.80 L278.54,72.99 L279.00,73.17 L279.45,73.36 L279.91,73.55 L280.37,73.73 L280.82,73.92 L281.28,74.11 L281.74,74.30 L282.19,74.49 L282.65,74.68 L283.11,74.87 L283.57,75.06 L284.02,75.25 L284.48,75.45 L284.94,75.64 L285.39,75.84 L285.85,76.03 L286.31,76.23 L286.76,76.42 L287.22,76.62 L287.68,76.82 L288.14,77.02 L288.59,77.21 L289.05,77.41 L289.51,77.62 L289.96,77.82 L290.42,78.02 L290.88,78.22 L291.33,78.43 L291.79,78.63 L292.25,78.84 L292.71,79.04 L293.16,79.25 L293.62,79.46 L294.08,79.67 L294.53,79.88 L294.99,80.09 L295.45,80.30 L295.90,80.51 L296.36,80.73 L296.82,80.94 L297.27,81.15 L297.73,81.37 L298.19,81.59 L298.65,81.81 L299.10,82.03 L299.56,82.25 L300.02,82.47 L300.47,82.69 L300.93,82.92 L301.39,83.14 L301.84,83.37 L302.30,83.59 L302.76,83.82 L303.22,84.05 L303.67,84.28 L304.13,84.51 L304.59,84.75 L305.04,84.98 L305.50,85.21 L305.96,85.45 L306.41,85.69 L306.87,85.93 L307.33,86.17 L307.79,86.41 L308.24,86.65 L308.70,86.89 L309.16,87.14 L309.61,87.38 L310.07,87.63 L310.53,87.88 L310.98,88.13 L311.44,88.38 L311.90,88.63 L312.36,88.88 L312.81,89.13 L313.27,89.39 L313.73,89.64 L314.18,89.90 L314.64,90.16 L315.10,90.42 L315.55,90.68 L316.01,90.94 L316.47,91.20 L316.92,91.46 L317.38,91.72 L317.84,91.99 L318.30,92.25 L318.75,92.52 L319.21,92.78 L319.67,93.05 L320.12,93.32 L320.58,93.59 L321.04,93.86 L321.49,94.13 L321.95,94.40 L322.41,94.67 L322.87,94.94 L323.32,95.21 L323.78,95.49 L324.24,95.76 L324.69,96.03 L325.15,96.31 L325.61,96.58 L326.06,96.86 L326.52,97.13 L326.98,97.41 L327.44,97.68 L327.89,97.96 L328.35,98.23 L328.81,98.51 L329.26,98.79 L329.72,99.06 L330.18,99.34 L330.63,99.62 L331.09,99.90 L331.55,100.17 L332.01,100.45 L332.46,100.73 L332.92,101.01 L333.38,101.29 L333.83,101.57 L334.29,101.85 L334.75,102.13 L335.20,102.41 L335.66,102.69 L336.12,102.97 L336.57,103.25 L337.03,103.53 L337.49,103.82 L337.95,104.10 L338.40,104.38 L338.86,104.67 L339.32,104.95 L339.77,105.24 L340.23,105.52 L340.69,105.81 L341.14,106.10 L341.60,106.38 L342.06,106.67 L342.52,106.96 L342.97,107.25 L343.43,107.54 L343.89,107.84 L344.34,108.13 L344.80,108.43 L345.26,108.72 L345.71,109.02 L346.17,109.32 L346.63,109.62 L347.09,109.92 L347.54,110.22 L348.00,110.52 L348.46,110.83 L348.91,111.13 L349.37,111.44 L349.83,111.75 L350.28,112.06 L350.74,112.37 L351.20,112.69 L351.66,113.00 L352.11,113.32 L352.57,113.64 L353.03,113.96 L353.48,114.29 L353.94,114.61 L354.40,114.94 L354.85,115.26 L355.31,115.59 L355.77,115.93 L356.22,116.26 L356.68,116.60 L357.14,116.93 L357.60,117.27 L358.05,117.62 L358.51,117.96 L358.97,118.30 L359.42,118.65 L359.88,119.00 L360.34,119.35 L360.79,119.71 L361.25,120.06 L361.71,120.42 L362.17,120.78 L362.62,121.14 L363.08,121.51 L363.54,121.87 L363.99,122.24 L364.45,122.61 L364.91,122.98 L365.36,123.36 L365.82,123.73 L366.28,124.11 L366.74,124.49 L367.19,124.87 L367.65,125.26 L368.11,125.64 L368.56,126.03 L369.02,126.42 L369.48,126.82 L369.93,127.21 L370.39,127.61 L370.85,128.01 L371.31,128.41 L371.76,128.81 L372.22,129.22 L372.68,129.62 L373.13,130.03 L373.59,130.44 L374.05,130.86 L374.50,131.27 L374.96,131.69 L375.42,132.11 L375.88,132.53 L376.33,132.96 L376.79,133.39 L377.25,133.81 L377.70,134.24 L378.16,134.68 L378.62,135.11 L379.07,135.55 L379.53,135.99 L379.99,136.43 L380.44,136.88 L380.90,137.32 L381.36,137.77 L381.82,138.22 L382.27,138.67 L382.73,139.13 L383.19,139.59 L383.65,140.05 L384.12,140.51 L384.60,140.97 L385.08,141.44 L385.55,141.91 L386.03,142.38 L386.51,142.85 L386.99,143.33 L387.46,143.81 L387.94,144.29 L388.42,144.77 L388.90,145.26 L389.37,145.74 L389.85,146.23 L390.33,146.73 L390.81,147.22 L391.29,147.72 L391.76,148.22 L392.24,148.72 L392.72,149.23 L393.20,149.74 L393.68,150.25 L394.16,150.76 L394.64,151.28 L395.12,151.79 L395.60,152.31 L396.08,152.84 L396.55,153.36 L397.03,153.89 L397.51,154.42 L397.99,154.96 L398.47,155.50 L398.95,156.04 L399.43,156.58 L399.91,157.12 L400.40,157.67 L400.88,158.22 L401.36,158.78 L401.84,159.33 L402.32,159.89 L402.80,160.45 L403.28,161.02 L403.76,161.59 L404.24,162.16 L404.72,162.73 L405.21,163.31 L405.69,163.89 L406.17,164.47 L406.65,165.06 L407.13,165.65 L407.62,166.24 L408.10,166.83 L408.58,167.43 L409.06,168.03 L409.55,168.64 L410.03,169.24 L410.51,169.86 L411.00,170.47 L411.48,171.09 L411.96,171.71 L412.45,172.33 L412.93,172.96 L413.42,173.59 L413.90,174.22 L414.38,174.86 L414.87,175.50 L415.35,176.14 L415.83,176.79 L416.32,177.44 L416.80,178.09 L417.28,178.75 L417.77,179.41 L418.25,180.08 L418.73,180.75 L419.22,181.42 L419.70,182.09 L420.18,182.77 L420.67,183.45 L421.15,184.14 L421.64,184.83 L422.12,185.52 L422.61,186.22 L423.09,186.92 L423.58,187.63 L424.06,188.34 L424.55,189.05 L425.03,189.76 L425.52,190.48 L426.01,191.21 L426.49,191.94 L426.98,192.67 L427.46,193.40 L427.95,194.14 L428.44,194.89 L428.92,195.63 L429.41,196.39 L429.90,197.14 L430.39,197.90 L430.87,198.67 L431.36,199.44 L431.84,200.21 L432.31,200.98 L432.78,201.77 L433.25,202.55 L433.72,203.34 L434.20,204.13 L434.67,204.93 L435.14,205.74 L435.61,206.54 L436.08,207.35 L436.55,208.17 L437.02,208.99 L437.49,209.82 L437.96,210.65 L438.43,211.48 L438.90,212.32 L439.37,213.16 L439.84,214.01 L440.31,214.86 L440.79,215.72 L441.26,216.58 L441.73,217.45 L442.20,218.32 L442.67,219.20 L443.14,220.08 L443.62,220.97 L444.09,221.86 L444.56,222.76 L445.03,223.66 L445.50,224.56 L445.98,225.48 L446.45,226.39 L446.92,227.32 L447.39,228.24 L447.86,229.17 L448.33,230.11 L448.78,231.06 L449.23,232.00 L449.68,232.96 L450.12,233.92 L450.57,234.88 L451.02,235.85 L451.47,236.82 L451.91,237.81 L452.36,238.79 L452.81,239.78 L453.25,240.78 L453.70,241.78 L454.15,242.79 L454.60,243.81 L455.04,244.83 L455.49,245.85 L455.94,246.88 L456.38,247.92 L456.83,248.97 L457.28,250.02 L457.72,251.07 L458.17,252.13 L458.61,253.20 L459.06,254.27 L459.51,255.35 L459.95,256.44 L460.40,257.53 L460.84,258.63 L461.29,259.73 L461.75,260.85 L462.21,261.96 L462.67,263.09 L463.14,264.22 L463.60,265.35 L464.06,266.50 L464.53,267.65 L464.99,268.80 L465.45,269.97 L465.91,271.14 L466.38,272.31 L466.84,273.50 L467.30,274.69 L467.77,275.88 L468.23,277.09 L468.69,278.30 L469.15,279.52 L469.62,280.74 L470.08,281.97 L470.54,283.21 L471.01,284.46 L471.47,285.71 L471.93,286.97 L472.40,288.24 L472.86,289.52 L473.32,290.80 L473.79,292.09 L474.25,293.39 L474.71,294.69 L475.18,296.01 L475.64,297.33 L476.10,298.66 L476.57,299.99 L477.05,301.34 L477.52,302.69 L478.00,304.05 L478.48,305.41 L478.95,306.79 L479.43,308.17 L479.91,309.57 L480.39,310.97 L480.87,312.37 L481.34,313.79 L481.82,315.21 L482.30,316.65 L482.78,318.09 L483.26,319.54 L483.74,321.00 L484.22,322.46 L484.70,323.94 L485.18,325.42 L485.65,326.92 L486.13,328.42 L486.61,329.93 L487.09,331.45 L487.57,332.98 L488.05,334.52 L488.53,336.06 L489.01,337.62 L489.49,339.18 L489.96,340.76" stroke="#ff0000" stroke-dasharray="7.8 4.9" stroke-dashoffset="1.52"/>
<path d="M109.00,25.03 L109.46,25.13 L109.91,25.23 L110.37,25.33 L110.83,25.43 L111.28,25.53 L111.74,25.63 L112.20,25.73 L112.66,25.84 L113.11,25.94 L113.57,26.04 L114.03,26.14 L114.48,26.24 L114.94,26.34 L115.40,26.45 L115.85,26.55 L116.31,26.65 L116.77,26.75 L117.23,26.86 L117.68,26.96 L118.14,27.06 L118.60,27.16 L119.05,27.27 L119.51,27.37 L119.97,27.47 L120.42,27.58 L120.88,27.68 L121.34,27.78 L121.80,27.88 L122.25,27.99 L122.71,28.09 L123.17,28.19 L123.62,28.30 L124.08,28.40 L124.54,28.51 L124.99,28.61 L125.45,28.71 L125.91,28.82 L126.37,28.92 L126.82,29.03 L127.28,29.13 L127.74,29.24 L128.19,29.34 L128.65,29.44 L129.11,29.55 L129.56,29.65 L130.02,29.76 L130.48,29.86 L130.93,29.97 L131.39,30.07 L131.85,30.18 L132.31,30.28 L132.76,30.39 L133.22,30.50 L133.68,30.60 L134.13,30.71 L134.59,30.81 L135.05,30.92 L135.50,31.02 L135.96,31.13 L136.42,31.24 L136.88,31.34 L137.33,31.45 L137.79,31.56 L138.25,31.66 L138.70,31.77 L139.16,31.88 L139.62,31.98 L140.07,32.09 L140.53,32.20 L140.99,32.31 L141.45,32.41 L141.90,32.52 L142.36,32.63 L142.82,32.74 L143.27,32.84 L143.73,32.95 L144.19,33.06 L144.64,33.17 L145.10,33.28 L145.56,33.38 L146.02,33.49 L146.47,33.60 L146.93,33.71 L147.39,33.82 L147.84,33.93 L148.30,34.04 L148.76,34.14 L149.21,34.25 L149.67,34.36 L150.13,34.47 L150.58,34.58 L151.04,34.69 L151.50,34.80 L151.96,34.91 L152.41,35.02 L152.87,35.13 L153.33,35.24 L153.78,35.35 L154.24,35.46 L154.70,35.57 L155.15,35.68 L155.61,35.79 L156.07,35.90 L156.53,36.02 L156.98,36.13 L157.44,36.24 L157.90,36.35 L158.35,36.46 L158.81,36.57 L159.27,36.68 L159.72,36.80 L160.18,36.91 L160.64,37.02 L161.10,37.13 L161.55,37.24 L162.01,37.36 L162.47,37.47 L162.92,37.58 L163.38,37.70 L163.84,37.81 L164.29,37.92 L164.75,38.03 L165.21,38.15 L165.67,38.26 L166.12,38.38 L166.58,38.49 L167.04,38.60 L167.49,38.72 L167.95,38.83 L168.41,38.95 L168.86,39.06 L169.32,39.17 L169.78,39.29 L170.24,39.40 L170.69,39.52 L171.15,39.63 L171.61,39.75 L172.06,39.86 L172.52,39.98 L172.98,40.10 L173.43,40.21 L173.89,40.33 L174.35,40.44 L174.80,40.56 L175.26,40.68 L175.72,40.79 L176.18,40.91 L176.63,41.03 L177.09,41.14 L177.55,41.26 L178.00,41.38 L178.46,41.49 L178.92,41.61 L179.37,41.73 L179.83,41.85 L180.29,41.97 L180.75,42.08 L181.20,42.20 L181.66,42.32 L182.12,42.44 L182.57,42.56 L183.03,42.68 L183.49,42.80 L183.94,42.91 L184.40,43.03 L184.86,43.15 L185.32,43.27 L185.77,43.39 L186.23,43.51 L186.69,43.63 L187.14,43.75 L187.60,43.87 L188.06,43.99 L188.51,44.11 L188.97,44.24 L189.43,44.36 L189.89,44.48 L190.34,44.60 L190.80,44.72 L191.26,44.84 L191.71,44.96 L192.17,45.09 L192.63,45.21 L193.08,45.33 L193.54,45.45 L194.00,45.58 L194.45,45.70 L194.91,45.82 L195.37,45.95 L195.83,46.07 L196.28,46.19 L196.74,46.32 L197.20,46.44 L197.65,46.57 L198.11,46.69 L198.57,46.81 L199.02,46.94 L199.48,47.06 L199.94,47.19 L200.40,47.31 L200.85,47.44 L201.31,47.57 L201.77,47.69 L202.22,47.82 L202.68,47.94 L203.14,48.07 L203.59,48.20 L204.05,48.32 L204.51,48.45 L204.97,48.58 L205.42,48.71 L205.88,48.83 L206.34,48.96 L206.79,49.09 L207.25,49.22 L207.71,49.35 L208.16,49.47 L208.62,49.60 L209.08,49.73 L209.54,49.86 L209.99,49.99 L210.45,50.12 L210.91,50.25 L211.36,50.38 L211.82,50.51 L212.28,50.64 L212.73,50.77 L213.19,50.90 L213.65,51.03 L214.10,51.17 L214.56,51.30 L215.02,51.43 L215.48,51.56 L215.93,51.69 L216.39,51.83 L216.85,51.96 L217.30,52.09 L217.76,52.22 L218.22,52.36 L218.67,52.49 L219.13,52.62 L219.59,52.76 L220.05,52.89 L220.50,53.03 L220.96,53.16 L221.42,53.30 L221.87,53.43 L222.33,53.57 L222.79,53.70 L223.24,53.84 L223.70,53.98 L224.16,54.11 L224.62,54.25 L225.07,54.39 L225.53,54.52 L225.99,54.66 L226.44,54.80 L226.90,54.94 L227.36,55.07 L227.81,55.21 L228.27,55.35 L228.73,55.49 L229.19,55.63 L229.64,55.77 L230.10,55.91 L230.56,56.05 L231.01,56.19 L231.47,56.33 L231.93,56.47 L232.38,56.61 L232.84,56.75 L233.30,56.89 L233.75,57.03 L234.21,57.18 L234.67,57.32 L235.13,57.46 L235.58,57.60 L236.04,57.75 L236.50,57.89 L236.95,58.04 L237.41,58.18 L237.87,58.32 L238.32,58.47 L238.78,58.61 L239.24,58.76 L239.70,58.90 L240.15,59.05 L240.61,59.20 L241.07,59.34 L241.52,59.49 L241.98,59.64 L242.44,59.78 L242.89,59.93 L243.35,60.08 L243.81,60.23 L244.27,60.38 L244.72,60.52 L245.18,60.67 L245.64,60.82 L246.09,60.97 L246.55,61.12 L247.01,61.27 L247.46,61.42 L247.92,61.57 L248.38,61.73 L248.84,61.88 L249.29,62.03 L249.75,62.18 L250.21,62.33 L250.66,62.49 L251.12,62.64 L251.58,62.79 L252.03,62.95 L252.49,63.10 L252.95,63.26 L253.40,63.41 L253.86,63.57 L254.32,63.72 L254.78,63.88 L255.23,64.04 L255.69,64.19 L256.15,64.35 L256.60,64.51 L257.06,64.67 L257.52,64.82 L257.97,64.98 L258.43,65.14 L258.89,65.30 L259.35,65.46 L259.80,65.62 L260.26,65.78 L260.72,65.94 L261.17,66.10 L261.63,66.27 L262.09,66.43 L262.54,66.59 L263.00,66.75 L263.46,66.92 L263.92,67.08 L264.37,67.24 L264.83,67.41 L265.29,67.57 L265.74,67.74 L266.20,67.90 L266.66,68.07 L267.11,68.23 L267.57,68.40 L268.03,68.57 L268.49,68.74 L268.94,68.90 L269.40,69.07 L269.86,69.24 L270.31,69.41 L270.77,69.58 L271.23,69.75 L271.68,69.92 L272.14,70.09 L272.60,70.26 L273.06,70.44 L273.51,70.61 L273.97,70.78 L274.43,70.95 L274.88,71.13 L275.34,71.30 L275.80,71.48 L276.25,71.65 L276.71,71.83 L277.17,72.00 L277.62,72.18 L278.08,72.36 L278.54,72.53 L279.00,72.71 L279.45,72.89 L279.91,73.07 L280.37,73.25 L280.82,73.43 L281.28,73.61 L281.74,73.79 L282.19,73.97 L282.65,74.15 L283.11,74.33 L283.57,74.52 L284.02,74.70 L284.48,74.88 L284.94,75.07 L285.39,75.25 L285.85,75.44 L286.31,75.62 L286.76,75.81 L287.22,76.00 L287.68,76.18 L288.14,76.37 L288.59,76.56 L289.05,76.75 L289.51,76.94 L289.96,77.13 L290.42,77.32 L290.88,77.51 L291.33,77.70 L291.79,77.90 L292.25,78.09 L292.71,78.28 L293.16,78.48 L293.62,78.67 L294.08,78.87 L294.53,79.06 L294.99,79.26 L295.45,79.45 L295.90,79.65 L296.36,79.85 L296.82,80.05 L297.27,80.25 L297.73,80.45 L298.19,80.65 L298.65,80.85 L299.10,81.05 L299.56,81.25 L300.02,81.46 L300.47,81.66 L300.93,81.86 L301.39,82.07 L301.84,82.28 L302.30,82.48 L302.76,82.69 L303.22,82.90 L303.67,83.10 L304.13,83.31 L304.59,83.52 L305.04,83.73 L305.50,83.94 L305.96,84.15 L306.41,84.37 L306.87,84.58 L307.33,84.79 L307.79,85.01 L308.24,85.22 L308.70,85.44 L309.16,85.65 L309.61,85.87 L310.07,86.09 L310.53,86.31 L310.98,86.52 L311.44,86.74 L311.90,86.96 L312.36,87.19 L312.81,87.41 L313.27,87.63 L313.73,87.85 L314.18,88.08 L314.64,88.30 L315.10,88.53 L315.55,88.75 L316.01,88.98 L316.47,89.21 L316.92,89.44 L317.38,89.67 L317.84,89.90 L318.30,90.13 L318.75,90.36 L319.21,90.59 L319.67,90.83 L320.12,91.06 L320.58,91.30 L321.04,91.53 L321.49,91.77 L321.95,92.01 L322.41,92.25 L322.87,92.49 L323.32,92.73 L323.78,92.97 L324.24,93.21 L324.69,93.45 L325.15,93.69 L325.61,93.94 L326.06,94.18 L326.52,94.43 L326.98,94.68 L327.44,94.92 L327.89,95.17 L328.35,95.42 L328.81,95.67 L329.26,95.93 L329.72,96.18 L330.18,96.43 L330.63,96.69 L331.09,96.94 L331.55,97.20 L332.01,97.45 L332.46,97.71 L332.92,97.97 L333.38,98.23 L333.83,98.49 L334.29,98.75 L334.75,99.02 L335.20,99.28 L335.66,99.54 L336.12,99.81 L336.57,100.08 L337.03,100.35 L337.49,100.61 L337.95,100.88 L338.40,101.16 L338.86,101.43 L339.32,101.70 L339.77,101.97 L340.23,102.25 L340.69,102.53 L341.14,102.80 L341.60,103.08 L342.06,103.36 L342.52,103.64 L342.97,103.92 L343.43,104.20 L343.89,104.49 L344.34,104.77 L344.80,105.06 L345.26,105.35 L345.71,105.63 L346.17,105.92 L346.63,106.21 L347.09,106.51 L347.54,106.80 L348.00,107.09 L348.46,107.39 L348.91,107.68 L349.37,107.98 L349.83,108.28 L350.28,108.58 L350.74,108.88 L351.20,109.18 L351.66,109.49 L352.11,109.79 L352.57,110.10 L353.03,110.41 L353.48,110.71 L353.94,111.02 L354.40,111.34 L354.85,111.65 L355.31,111.96 L355.77,112.28 L356.22,112.59 L356.68,112.91 L357.14,113.23 L357.60,113.55 L358.05,113.87 L358.51,114.19 L358.97,114.52 L359.42,114.84 L359.88,115.17 L360.34,115.50 L360.79,115.83 L361.25,116.16 L361.71,116.49 L362.17,116.83 L362.62,117.16 L363.08,117.50 L363.54,117.84 L363.99,118.18 L364.45,118.52 L364.91,118.86 L365.36,119.20 L365.82,119.55 L366.28,119.90 L366.74,120.24 L367.19,120.59 L367.65,120.95 L368.11,121.30 L368.56,121.65 L369.02,122.01 L369.48,122.37 L369.93,122.73 L370.39,123.09 L370.85,123.45 L371.31,123.81 L371.76,124.18 L372.22,124.55 L372.68,124.92 L373.13,125.29 L373.59,125.66 L374.05,126.03 L374.50,126.41 L374.96,126.78 L375.42,127.16 L375.88,127.54 L376.33,127.93 L376.79,128.31 L377.25,128.69 L377.70,129.08 L378.16,129.47 L378.62,129.86 L379.07,130.25 L379.53,130.65 L379.99,131.05 L380.44,131.44 L380.90,131.84 L381.36,132.24 L381.82,132.65 L382.27,133.05 L382.73,133.46 L383.19,133.87 L383.64,134.28 L384.10,134.69 L384.56,135.11 L385.01,135.53 L385.47,135.94 L385.93,136.36 L386.39,136.79 L386.84,137.21 L387.30,137.64 L387.76,138.07 L388.21,138.50 L388.67,138.93 L389.13,139.36 L389.58,139.80 L390.04,140.24 L390.50,140.68 L390.96,141.12 L391.41,141.57 L391.87,142.01 L392.33,142.46 L392.78,142.91 L393.24,143.37 L393.70,143.82 L394.15,144.28 L394.61,144.74 L395.07,145.20 L395.53,145.66 L395.98,146.13 L396.44,146.60 L396.90,147.07 L397.35,147.54 L397.81,148.02 L398.27,148.50 L398.72,148.98 L399.18,149.46 L399.64,149.94 L400.09,150.43 L400.55,150.92 L401.01,151.41 L401.47,151.91 L401.92,152.40 L402.38,152.90 L402.84,153.40 L403.29,153.91 L403.75,154.41 L404.21,154.92 L404.66,155.43 L405.12,155.95 L405.58,156.46 L406.04,156.98 L406.49,157.50 L406.95,158.03 L407.41,158.55 L407.86,159.08 L408.32,159.62 L408.78,160.15 L409.23,160.69 L409.69,161.23 L410.15,161.77 L410.61,162.31 L411.06,162.86 L411.52,163.41 L411.98,163.97 L412.43,164.52 L412.89,165.08 L413.35,165.64 L413.80,166.21 L414.26,166.78 L414.72,167.35 L415.18,167.92 L415.63,168.50 L416.09,169.07 L416.55,169.66 L417.00,170.24 L417.46,170.83 L417.92,171.42 L418.37,172.01 L418.83,172.61 L419.29,173.21 L419.74,173.81 L420.20,174.42 L420.66,175.03 L421.12,175.64 L421.57,176.26 L422.03,176.88 L422.49,177.50 L422.94,178.12 L423.40,178.75 L423.86,179.38 L424.31,180.02 L424.77,180.66 L425.23,181.30 L425.68,181.94 L426.14,182.59 L426.60,183.24 L427.06,183.90 L427.51,184.55 L427.97,185.22 L428.43,185.88 L428.88,186.55 L429.34,187.22 L429.80,187.90 L430.25,188.58 L430.71,189.26 L431.17,189.94 L431.62,190.63 L432.08,191.33 L432.54,192.02 L432.99,192.73 L433.45,193.43 L433.91,194.14 L434.36,194.85 L434.82,195.57 L435.27,196.29 L435.73,197.01 L436.19,197.74 L436.64,198.47 L437.10,199.20 L437.55,199.94 L438.01,200.68 L438.47,201.43 L438.92,202.18 L439.38,202.94 L439.83,203.69 L440.29,204.46 L440.74,205.22 L441.19,205.99 L441.65,206.77 L442.10,207.55 L442.56,208.33 L443.01,209.12 L443.46,209.91 L443.92,210.71 L444.37,211.51 L444.82,212.31 L445.27,213.12 L445.72,213.93 L446.17,214.75 L446.62,215.57 L447.07,216.40 L447.52,217.23 L447.97,218.07 L448.42,218.91 L448.87,219.75 L449.32,220.60 L449.76,221.46 L450.21,222.31 L450.65,223.18 L451.10,224.05 L451.54,224.92 L451.99,225.80 L452.43,226.68 L452.87,227.57 L453.32,228.46 L453.76,229.35 L454.20,230.26 L454.64,231.16 L455.08,232.08 L455.52,232.99 L455.96,233.91 L456.40,234.84 L456.84,235.77 L457.28,236.71 L457.72,237.65 L458.16,238.60 L458.60,239.55 L459.04,240.51 L459.48,241.47 L459.93,242.44 L460.37,243.42 L460.81,244.40 L461.25,245.38 L461.70,246.37 L462.14,247.37 L462.59,248.37 L463.04,249.37 L463.49,250.39 L463.94,251.41 L464.39,252.43 L464.84,253.46 L465.30,254.49 L465.76,255.53 L466.22,256.58 L466.68,257.63 L467.14,258.69 L467.60,259.76 L468.07,260.83 L468.53,261.90 L469.00,262.99 L469.47,264.08 L469.94,265.17 L470.42,266.27 L470.89,267.38 L471.36,268.49 L471.84,269.61 L472.32,270.74 L472.79,271.87 L473.27,273.01 L473.75,274.15 L474.23,275.31 L474.71,276.46 L475.18,277.63 L475.66,278.80 L476.14,279.98 L476.62,281.16 L477.09,282.35 L477.57,283.55 L478.04,284.76 L478.52,285.97 L478.99,287.19 L479.46,288.41 L479.94,289.64 L480.41,290.88 L480.88,292.13 L481.35,293.38 L481.81,294.65 L482.28,295.91 L482.75,297.19 L483.21,298.47 L483.68,299.76 L484.14,301.06 L484.60,302.36 L485.06,303.68 L485.52,305.00 L485.99,306.32 L486.45,307.66 L486.91,309.00 L487.37,310.35 L487.82,311.71 L488.28,313.07 L488.74,314.45 L489.20,315.83 L489.66,317.22 L490.12,318.62 L490.57,320.02 L491.03,321.44 L491.49,322.86 L491.95,324.29 L492.40,325.73 L492.86,327.17 L493.32,328.63 L493.77,330.09 L494.23,331.56 L494.69,333.04 L495.15,334.53 L495.60,336.03 L496.06,337.54 L496.52,339.05 L496.97,340.58" stroke="#00ffff" stroke-dasharray="4.6 2.7" stroke-dashoffset="0.00"/>
<path d="M109.00,24.78 L109.46,24.88 L109.91,24.98 L110.37,25.08 L110.83,25.18 L111.28,25.28 L111.74,25.38 L112.20,25.48 L112.66,25.58 L113.11,25.68 L113.57,25.79 L114.03,25.89 L114.48,25.99 L114.94,26.10 L115.40,26.20 L115.85,26.31 L116.31,26.41 L116.77,26.51 L117.23,26.62 L117.68,26.73 L118.14,26.83 L118.60,26.94 L119.05,27.04 L119.51,27.15 L119.97,27.26 L120.42,27.37 L120.88,27.47 L121.34,27.58 L121.80,27.69 L122.25,27.80 L122.71,27.91 L123.17,28.02 L123.62,28.13 L124.08,28.23 L124.54,28.34 L124.99,28.45 L125.45,28.56 L125.91,28.67 L126.37,28.78 L126.82,28.89 L127.28,29.00 L127.74,29.11 L128.19,29.22 L128.65,29.33 L129.11,29.44 L129.56,29.55 L130.02,29.66 L130.48,29.77 L130.93,29.88 L131.39,29.99 L131.85,30.11 L132.31,30.22 L132.76,30.33 L133.22,30.44 L133.68,30.55 L134.13,30.66 L134.59,30.77 L135.05,30.88 L135.50,30.99 L135.96,31.10 L136.42,31.21 L136.88,31.32 L137.33,31.43 L137.79,31.54 L138.25,31.65 L138.70,31.76 L139.16,31.87 L139.62,31.98 L140.07,32.09 L140.53,32.20 L140.99,32.31 L141.45,32.42 L141.90,32.53 L142.36,32.64 L142.82,32.75 L143.27,32.86 L143.73,32.97 L144.19,33.08 L144.64,33.19 L145.10,33.30 L145.56,33.41 L146.02,33.52 L146.47,33.63 L146.93,33.74 L147.39,33.85 L147.84,33.96 L148.30,34.07 L148.76,34.18 L149.21,34.29 L149.67,34.40 L150.13,34.50 L150.58,34.61 L151.04,34.72 L151.50,34.83 L151.96,34.94 L152.41,35.05 L152.87,35.16 L153.33,35.27 L153.78,35.38 L154.24,35.49 L154.70,35.60 L155.15,35.71 L155.61,35.82 L156.07,35.93 L156.53,36.04 L156.98,36.16 L157.44,36.27 L157.90,36.38 L158.35,36.49 L158.81,36.60 L159.27,36.71 L159.72,36.82 L160.18,36.93 L160.64,37.04 L161.10,37.15 L161.55,37.26 L162.01,37.38 L162.47,37.49 L162.92,37.60 L163.38,37.71 L163.84,37.82 L164.29,37.93 L164.75,38.05 L165.21,38.16 L165.67,38.27 L166.12,38.38 L166.58,38.50 L167.04,38.61 L167.49,38.72 L167.95,38.83 L168.41,38.95 L168.86,39.06 L169.32,39.17 L169.78,39.29 L170.24,39.40 L170.69,39.52 L171.15,39.63 L171.61,39.74 L172.06,39.86 L172.52,39.97 L172.98,40.09 L173.43,40.20 L173.89,40.32 L174.35,40.43 L174.80,40.55 L175.26,40.66 L175.72,40.78 L176.18,40.89 L176.63,41.01 L177.09,41.12 L177.55,41.24 L178.00,41.36 L178.46,41.47 L178.92,41.59 L179.37,41.71 L179.83,41.82 L180.29,41.94 L180.75,42.06 L181.20,42.17 L181.66,42.29 L182.12,42.41 L182.57,42.53 L183.03,42.65 L183.49,42.76 L183.94,42.88 L184.40,43.00 L184.86,43.12 L185.32,43.24 L185.77,43.36 L186.23,43.48 L186.69,43.60 L187.14,43.72 L187.60,43.84 L188.06,43.96 L188.51,44.08 L188.97,44.20 L189.43,44.32 L189.89,44.44 L190.34,44.56 L190.80,44.68 L191.26,44.80 L191.71,44.92 L192.17,45.04 L192.63,45.17 L193.08,45.29 L193.54,45.41 L194.00,45.53 L194.45,45.66 L194.91,45.78 L195.37,45.90 L195.83,46.02 L196.28,46.15 L196.74,46.27 L197.20,46.40 L197.65,46.52 L198.11,46.64 L198.57,46.77 L199.02,46.89 L199.48,47.02 L199.94,47.14 L200.40,47.27 L200.85,47.39 L201.31,47.52 L201.77,47.64 L202.22,47.77 L202.68,47.90 L203.14,48.02 L203.59,48.15 L204.05,48.28 L204.51,48.40 L204.97,48.53 L205.42,48.66 L205.88,48.79 L206.34,48.91 L206.79,49.04 L207.25,49.17 L207.71,49.30 L208.16,49.43 L208.62,49.56 L209.08,49.69 L209.54,49.82 L209.99,49.95 L210.45,50.08 L210.91,50.21 L211.36,50.34 L211.82,50.47 L212.28,50.60 L212.73,50.73 L213.19,50.86 L213.65,50.99 L214.10,51.13 L214.56,51.26 L215.02,51.39 L215.48,51.52 L215.93,51.66 L216.39,51.79 L216.85,51.92 L217.30,52.06 L217.76,52.19 L218.22,52.33 L218.67,52.46 L219.13,52.59 L219.59,52.73 L220.05,52.87 L220.50,53.00 L220.96,53.14 L221.42,53.27 L221.87,53.41 L222.33,53.55 L222.79,53.68 L223.24,53.82 L223.70,53.96 L224.16,54.09 L224.62,54.23 L225.07,54.37 L225.53,54.51 L225.99,54.65 L226.44,54.79 L226.90,54.93 L227.36,55.07 L227.81,55.21 L228.27,55.35 L228.73,55.49 L229.19,55.63 L229.64,55.77 L230.10,55.91 L230.56,56.05 L231.01,56.19 L231.47,56.34 L231.93,56.48 L232.38,56.62 L232.84,56.77 L233.30,56.91 L233.75,57.05 L234.21,57.20 L234.67,57.34 L235.13,57.49 L235.58,57.63 L236.04,57.78 L236.50,57.92 L236.95,58.07 L237.41,58.22 L237.87,58.36 L238.32,58.51 L238.78,58.66 L239.24,58.80 L239.70,58.95 L240.15,59.10 L240.61,59.25 L241.07,59.40 L241.52,59.55 L241.98,59.70 L242.44,59.85 L242.89,60.00 L243.35,60.15 L243.81,60.30 L244.27,60.45 L244.72,60.60 L245.18,60.76 L245.64,60.91 L246.09,61.06 L246.55,61.21 L247.01,61.37 L247.46,61.52 L247.92,61.68 L248.38,61.83 L248.84,61.99 L249.29,62.14 L249.75,62.30 L250.21,62.45 L250.66,62.61 L251.12,62.77 L251.58,62.93 L252.03,63.08 L252.49,63.24 L252.95,63.40 L253.40,63.56 L253.86,63.72 L254.32,63.88 L254.78,64.04 L255.23,64.20 L255.69,64.36 L256.15,64.52 L256.60,64.68 L257.06,64.85 L257.52,65.01 L257.97,65.17 L258.43,65.33 L258.89,65.50 L259.35,65.66 L259.80,65.83 L260.26,65.99 L260.72,66.16 L261.17,66.32 L261.63,66.49 L262.09,66.66 L262.54,66.83 L263.00,66.99 L263.46,67.16 L263.92,67.33 L264.37,67.50 L264.83,67.67 L265.29,67.84 L265.74,68.01 L266.20,68.18 L266.66,68.35 L267.11,68.52 L267.57,68.70 L268.03,68.87 L268.49,69.04 L268.94,69.22 L269.40,69.39 L269.86,69.57 L270.31,69.74 L270.77,69.92 L271.23,70.09 L271.68,70.27 L272.14,70.45 L272.60,70.63 L273.06,70.80 L273.51,70.98 L273.97,71.16 L274.43,71.34 L274.88,71.52 L275.34,71.71 L275.80,71.89 L276.25,72.07 L276.71,72.25 L277.17,72.43 L277.62,72.62 L278.08,72.80 L278.54,72.99 L279.00,73.17 L279.45,73.36 L279.91,73.55 L280.37,73.73 L280.82,73.92 L281.28,74.11 L281.74,74.30 L282.19,74.49 L282.65,74.68 L283.11,74.87 L283.57,75.06 L284.02,75.25 L284.48,75.45 L284.94,75.64 L285.39,75.84 L285.85,76.03 L286.31,76.23 L286.76,76.42 L287.22,76.62 L287.68,76.82 L288.14,77.02 L288.59,77.21 L289.05,77.41 L289.51,77.62 L289.96,77.82 L290.42,78.02 L290.88,78.22 L291.33,78.43 L291.79,78.63 L292.25,78.84 L292.71,79.04 L293.16,79.25 L293.62,79.46 L294.08,79.67 L294.53,79.88 L294.99,80.09 L295.45,80.30 L295.90,80.51 L296.36,80.73 L296.82,80.94 L297.27,81.15 L297.73,81.37 L298.19,81.59 L298.65,81.81 L299.10,82.03 L299.56,82.25 L300.02,82.47 L300.47,82.69 L300.93,82.92 L301.39,83.14 L301.84,83.37 L302.30,83.59 L302.76,83.82 L303.22,84.05 L303.67,84.28 L304.13,84.51 L304.59,84.75 L305.04,84.98 L305.50,85.21 L305.96,85.45 L306.41,85.69 L306.87,85.93 L307.33,86.17 L307.79,86.41 L308.24,86.65 L308.70,86.89 L309.16,87.14 L309.61,87.38 L310.07,87.63 L310.53,87.88 L310.98,88.13 L311.44,88.38 L311.90,88.63 L312.36,88.88 L312.81,89.13 L313.27,89.39 L313.73,89.64 L314.18,89.90 L314.64,90.16 L315.10,90.42 L315.55,90.68 L316.01,90.94 L316.47,91.20 L316.92,91.46 L317.38,91.72 L317.84,91.99 L318.30,92.25 L318.75,92.52 L319.21,92.78 L319.67,93.05 L320.12,93.32 L320.58,93.59 L321.04,93.86 L321.49,94.13 L321.95,94.40 L322.41,94.67 L322.87,94.94 L323.32,95.21 L323.78,95.49 L324.24,95.76 L324.69,96.03 L325.15,96.31 L325.61,96.58 L326.06,96.86 L326.52,97.13 L326.98,97.41 L327.44,97.68 L327.89,97.96 L328.35,98.23 L328.81,98.51 L329.26,98.79 L329.72,99.06 L330.18,99.34 L330.63,99.62 L331.09,99.90 L331.55,100.17 L332.01,100.45 L332.46,100.73 L332.92,101.01 L333.38,101.29 L333.83,101.57 L334.29,101.85 L334.75,102.13 L335.20,102.41 L335.66,102.69 L336.12,102.97 L336.57,103.25 L337.03,103.53 L337.49,103.82 L337.95,104.10 L338.40,104.38 L338.86,104.67 L339.32,104.95 L339.77,105.24 L340.23,105.52 L340.69,105.81 L341.14,106.10 L341.60,106.38 L342.06,106.67 L342.52,106.96 L342.97,107.25 L343.43,107.54 L343.89,107.84 L344.34,108.13 L344.80,108.43 L345.26,108.72 L345.71,109.02 L346.17,109.32 L346.63,109.62 L347.09,109.92 L347.54,110.22 L348.00,110.52 L348.46,110.83 L348.91,111.13 L349.37,111.44 L349.83,111.75 L350.28,112.06 L350.74,112.37 L351.20,112.69 L351.66,113.00 L352.11,113.32 L352.57,113.64 L353.03,113.96 L353.48,114.29 L353.94,114.61 L354.40,114.94 L354.85,115.26 L355.31,115.59 L355.77,115.93 L356.22,116.26 L356.68,116.60 L357.14,116.93 L357.60,117.27 L358.05,117.62 L358.51,117.96 L358.97,118.30 L359.42,118.65 L359.88,119.00 L360.34,119.35 L360.79,119.71 L361.25,120.06 L361.71,120.42 L362.17,120.78 L362.62,121.14 L363.08,121.51 L363.54,121.87 L363.99,122.24 L364.45,122.61 L364.91,122.98 L365.36,123.36 L365.82,123.73 L366.28,124.11 L366.74,124.49 L367.19,124.87 L367.65,125.26 L368.11,125.64 L368.56,126.03 L369.02,126.42 L369.48,126.82 L369.93,127.21 L370.39,127.61 L370.85,128.01 L371.31,128.41 L371.76,128.81 L372.22,129.22 L372.68,129.62 L373.13,130.03 L373.59,130.44 L374.05,130.86 L374.50,131.27 L374.96,131.69 L375.42,132.11 L375.88,132.53 L376.33,132.96 L376.79,133.39 L377.25,133.81 L377.70,134.24 L378.16,134.68 L378.62,135.11 L379.07,135.55 L379.53,135.99 L379.99,136.43 L380.44,136.88 L380.90,137.32 L381.36,137.77 L381.82,138.22 L382.27,138.67 L382.73,139.13 L383.19,139.59 L383.64,140.05 L384.11,140.51 L384.57,140.97 L385.03,141.44 L385.50,141.91 L385.96,142.38 L386.42,142.85 L386.88,143.33 L387.35,143.81 L387.81,144.29 L388.27,144.77 L388.74,145.26 L389.20,145.74 L389.66,146.23 L390.13,146.73 L390.59,147.22 L391.05,147.72 L391.52,148.22 L391.98,148.72 L392.44,149.23 L392.90,149.74 L393.37,150.25 L393.83,150.76 L394.30,151.28 L394.76,151.79 L395.22,152.31 L395.69,152.84 L396.15,153.36 L396.61,153.89 L397.08,154.42 L397.54,154.96 L398.00,155.50 L398.47,156.04 L398.93,156.58 L399.39,157.12 L399.86,157.67 L400.32,158.22 L400.79,158.78 L401.25,159.33 L401.71,159.89 L402.18,160.45 L402.64,161.02 L403.11,161.59 L403.57,162.16 L404.03,162.73 L404.50,163.31 L404.96,163.89 L405.43,164.47 L405.89,165.06 L406.36,165.65 L406.82,166.24 L407.28,166.83 L407.75,167.43 L408.21,168.03 L408.68,168.64 L409.14,169.24 L409.61,169.86 L410.07,170.47 L410.54,171.09 L411.00,171.71 L411.47,172.33 L411.93,172.96 L412.40,173.59 L412.86,174.22 L413.33,174.86 L413.79,175.50 L414.26,176.14 L414.72,176.79 L415.19,177.44 L415.65,178.09 L416.12,178.75 L416.58,179.41 L417.05,180.08 L417.50,180.75 L417.96,181.42 L418.42,182.09 L418.88,182.77 L419.33,183.45 L419.79,184.14 L420.25,184.83 L420.71,185.52 L421.16,186.22 L421.62,186.92 L422.08,187.63 L422.53,188.34 L422.99,189.05 L423.45,189.76 L423.91,190.48 L424.36,191.21 L424.82,191.94 L425.28,192.67 L425.74,193.40 L426.19,194.14 L426.65,194.89 L427.11,195.63 L427.57,196.39 L428.02,197.14 L428.48,197.90 L428.94,198.67 L429.40,199.44 L429.85,200.21 L430.31,200.98 L430.77,201.77 L431.23,202.55 L431.68,203.34 L432.14,204.13 L432.60,204.93 L433.06,205.74 L433.51,206.54 L433.97,207.35 L434.43,208.17 L434.89,208.99 L435.34,209.82 L435.80,210.65 L436.26,211.48 L436.72,212.32 L437.17,213.16 L437.63,214.01 L438.09,214.86 L438.55,215.72 L439.00,216.58 L439.46,217.45 L439.92,218.32 L440.38,219.20 L440.83,220.08 L441.29,220.97 L441.75,221.86 L442.21,222.76 L442.66,223.66 L443.12,224.56 L443.58,225.48 L444.04,226.39 L444.49,227.32 L444.95,228.24 L445.41,229.17 L445.87,230.11 L446.32,231.06 L446.78,232.00 L447.24,232.96 L447.70,233.92 L448.15,234.88 L448.61,235.85 L449.07,236.82 L449.53,237.81 L449.99,238.79 L450.44,239.78 L450.90,240.78 L451.36,241.78 L451.82,242.79 L452.27,243.81 L452.73,244.83 L453.19,245.85 L453.65,246.88 L454.10,247.92 L454.56,248.97 L455.02,250.02 L455.48,251.07 L455.93,252.13 L456.39,253.20 L456.85,254.27 L457.31,255.35 L457.76,256.44 L458.22,257.53 L458.68,258.63 L459.14,259.73 L459.60,260.85 L460.05,261.96 L460.51,263.09 L460.97,264.22 L461.43,265.35 L461.88,266.50 L462.34,267.65 L462.80,268.80 L463.26,269.97 L463.71,271.14 L464.17,272.31 L464.63,273.50 L465.09,274.69 L465.55,275.88 L466.00,277.09 L466.46,278.30 L466.92,279.52 L467.38,280.74 L467.83,281.97 L468.29,283.21 L468.75,284.46 L469.21,285.71 L469.67,286.97 L470.12,288.24 L470.58,289.52 L471.04,290.80 L471.50,292.09 L471.95,293.39 L472.41,294.69 L472.87,296.01 L473.33,297.33 L473.79,298.66 L474.24,299.99 L474.70,301.34 L475.16,302.69 L475.62,304.05 L476.07,305.41 L476.53,306.79 L476.99,308.17 L477.45,309.57 L477.91,310.97 L478.36,312.37 L478.82,313.79 L479.28,315.21 L479.74,316.65 L480.20,318.09 L480.65,319.54 L481.11,321.00 L481.57,322.46 L482.03,323.94 L482.48,325.42 L482.94,326.92 L483.40,328.42 L483.86,329.93 L484.32,331.45 L484.77,332.98 L485.23,334.52 L485.69,336.06 L486.15,337.62 L486.61,339.18 L487.06,340.76" stroke="#ff8000" stroke-dasharray="4.7 4.6 10 4.7" stroke-dashoffset="0.00"/>
<path d="M109.00,28.29 L109.46,28.40 L109.91,28.52 L110.37,28.63 L110.83,28.75 L111.28,28.86 L111.74,28.98 L112.20,29.09 L112.66,29.20 L113.11,29.32 L113.57,29.43 L114.03,29.55 L114.48,29.66 L114.94,29.78 L115.40,29.89 L115.85,30.01 L116.31,30.12 L116.77,30.24 L117.23,30.35 L117.68,30.47 L118.14,30.58 L118.60,30.70 L119.05,30.81 L119.51,30.93 L119.97,31.04 L120.42,31.16 L120.88,31.27 L121.34,31.39 L121.80,31.51 L122.25,31.62 L122.71,31.74 L123.17,31.85 L123.62,31.97 L124.08,32.08 L124.54,32.20 L124.99,32.32 L125.45,32.43 L125.91,32.55 L126.37,32.67 L126.82,32.78 L127.28,32.90 L127.74,33.02 L128.19,33.13 L128.65,33.25 L129.11,33.37 L129.56,33.49 L130.02,33.60 L130.48,33.72 L130.93,33.84 L131.39,33.96 L131.85,34.07 L132.31,34.19 L132.76,34.31 L133.22,34.43 L133.68,34.55 L134.13,34.67 L134.59,34.79 L135.05,34.90 L135.50,35.02 L135.96,35.14 L136.42,35.26 L136.88,35.38 L137.33,35.50 L137.79,35.62 L138.25,35.74 L138.70,35.86 L139.16,35.98 L139.62,36.10 L140.07,36.22 L140.53,36.34 L140.99,36.46 L141.45,36.58 L141.90,36.70 L142.36,36.83 L142.82,36.95 L143.27,37.07 L143.73,37.19 L144.19,37.31 L144.64,37.43 L145.10,37.56 L145.56,37.68 L146.02,37.80 L146.47,37.92 L146.93,38.05 L147.39,38.17 L147.84,38.29 L148.30,38.42 L148.76,38.54 L149.21,38.67 L149.67,38.79 L150.13,38.91 L150.58,39.04 L151.04,39.16 L151.50,39.29 L151.96,39.41 L152.41,39.54 L152.87,39.66 L153.33,39.79 L153.78,39.92 L154.24,40.04 L154.70,40.17 L155.15,40.30 L155.61,40.42 L156.07,40.55 L156.53,40.68 L156.98,40.81 L157.44,40.93 L157.90,41.06 L158.35,41.19 L158.81,41.32 L159.27,41.45 L159.72,41.58 L160.18,41.71 L160.64,41.84 L161.10,41.97 L161.55,42.10 L162.01,42.23 L162.47,42.36 L162.92,42.49 L163.38,42.62 L163.84,42.75 L164.29,42.88 L164.75,43.02 L165.21,43.15 L165.67,43.28 L166.12,43.41 L166.58,43.55 L167.04,43.68 L167.49,43.82 L167.95,43.95 L168.41,44.08 L168.86,44.22 L169.32,44.35 L169.78,44.49 L170.24,44.63 L170.69,44.76 L171.15,44.90 L171.61,45.03 L172.06,45.17 L172.52,45.31 L172.98,45.45 L173.43,45.58 L173.89,45.72 L174.35,45.86 L174.80,46.00 L175.26,46.14 L175.72,46.28 L176.18,46.42 L176.63,46.56 L177.09,46.70 L177.55,46.84 L178.00,46.98 L178.46,47.13 L178.92,47.27 L179.37,47.41 L179.83,47.56 L180.29,47.70 L180.75,47.84 L181.20,47.99 L181.66,48.13 L182.12,48.28 L182.57,48.42 L183.03,48.57 L183.49,48.71 L183.94,48.86 L184.40,49.01 L184.86,49.16 L185.32,49.30 L185.77,49.45 L186.23,49.60 L186.69,49.75 L187.14,49.90 L187.60,50.05 L188.06,50.20 L188.51,50.35 L188.97,50.50 L189.43,50.66 L189.89,50.81 L190.34,50.96 L190.80,51.11 L191.26,51.27 L191.71,51.42 L192.17,51.58 L192.63,51.73 L193.08,51.89 L193.54,52.04 L194.00,52.20 L194.45,52.36 L194.91,52.51 L195.37,52.67 L195.83,52.83 L196.28,52.99 L196.74,53.15 L197.20,53.31 L197.65,53.47 L198.11,53.63 L198.57,53.79 L199.02,53.96 L199.48,54.12 L199.94,54.28 L200.40,54.45 L200.85,54.61 L201.31,54.78 L201.77,54.94 L202.22,55.11 L202.68,55.27 L203.14,55.44 L203.59,55.61 L204.05,55.78 L204.51,55.95 L204.97,56.12 L205.42,56.29 L205.88,56.46 L206.34,56.63 L206.79,56.80 L207.25,56.97 L207.71,57.15 L208.16,57.32 L208.62,57.50 L209.08,57.67 L209.54,57.85 L209.99,58.02 L210.45,58.20 L210.91,58.38 L211.36,58.56 L211.82,58.73 L212.28,58.91 L212.73,59.09 L213.19,59.28 L213.65,59.46 L214.10,59.64 L214.56,59.82 L215.02,60.01 L215.48,60.19 L215.93,60.38 L216.39,60.56 L216.85,60.75 L217.30,60.93 L217.76,61.12 L218.22,61.31 L218.67,61.50 L219.13,61.69 L219.59,61.88 L220.05,62.07 L220.50,62.27 L220.96,62.46 L221.42,62.65 L221.87,62.85 L222.33,63.04 L222.79,63.24 L223.24,63.44 L223.70,63.63 L224.16,63.83 L224.62,64.03 L225.07,64.23 L225.53,64.43 L225.99,64.63 L226.44,64.84 L226.90,65.04 L227.36,65.24 L227.81,65.45 L228.27,65.65 L228.73,65.86 L229.19,66.07 L229.64,66.28 L230.10,66.49 L230.56,66.70 L231.01,66.91 L231.47,67.12 L231.93,67.33 L232.38,67.55 L232.84,67.76 L233.30,67.98 L233.75,68.19 L234.21,68.41 L234.67,68.63 L235.13,68.85 L235.58,69.07 L236.04,69.29 L236.50,69.51 L236.95,69.73 L237.41,69.96 L237.87,70.18 L238.32,70.41 L238.78,70.63 L239.24,70.86 L239.70,71.09 L240.15,71.32 L240.61,71.55 L241.07,71.78 L241.52,72.01 L241.98,72.25 L242.44,72.48 L242.89,72.72 L243.35,72.96 L243.81,73.19 L244.27,73.43 L244.72,73.67 L245.18,73.91 L245.64,74.16 L246.09,74.40 L246.55,74.64 L247.01,74.89 L247.46,75.14 L247.92,75.38 L248.38,75.63 L248.84,75.88 L249.29,76.13 L249.75,76.39 L250.21,76.64 L250.66,76.89 L251.12,77.15 L251.58,77.41 L252.03,77.66 L252.49,77.92 L252.95,78.18 L253.40,78.45 L253.86,78.71 L254.32,78.97 L254.78,79.24 L255.23,79.50 L255.69,79.77 L256.15,80.04 L256.60,80.31 L257.06,80.58 L257.52,80.85 L257.97,81.13 L258.43,81.40 L258.89,81.68 L259.35,81.96 L259.80,82.24 L260.26,82.52 L260.72,82.80 L261.17,83.08 L261.63,83.37 L262.09,83.65 L262.54,83.94 L263.00,84.23 L263.46,84.52 L263.92,84.81 L264.37,85.10 L264.83,85.40 L265.29,85.69 L265.74,85.99 L266.20,86.29 L266.66,86.59 L267.11,86.89 L267.57,87.19 L268.03,87.50 L268.49,87.80 L268.94,88.11 L269.40,88.42 L269.86,88.73 L270.31,89.04 L270.77,89.35 L271.23,89.67 L271.68,89.98 L272.14,90.30 L272.60,90.62 L273.06,90.94 L273.51,91.26 L273.97,91.59 L274.43,91.91 L274.88,92.24 L275.34,92.57 L275.80,92.90 L276.25,93.23 L276.71,93.56 L277.17,93.90 L277.62,94.24 L278.08,94.58 L278.54,94.92 L279.00,95.26 L279.45,95.60 L279.91,95.95 L280.37,96.29 L280.82,96.64 L281.28,96.99 L281.74,97.35 L282.19,97.70 L282.65,98.06 L283.11,98.41 L283.57,98.77 L284.02,99.13 L284.48,99.50 L284.94,99.86 L285.39,100.23 L285.85,100.60 L286.31,100.97 L286.76,101.34 L287.22,101.71 L287.68,102.09 L288.14,102.47 L288.59,102.85 L289.05,103.23 L289.51,103.61 L289.96,104.00 L290.42,104.39 L290.88,104.78 L291.33,105.17 L291.79,105.56 L292.25,105.96 L292.71,106.35 L293.16,106.75 L293.62,107.16 L294.08,107.56 L294.53,107.97 L294.99,108.37 L295.45,108.78 L295.90,109.20 L296.36,109.61 L296.82,110.03 L297.27,110.44 L297.73,110.86 L298.19,111.29 L298.65,111.71 L299.10,112.14 L299.56,112.57 L300.02,113.00 L300.47,113.43 L300.93,113.87 L301.39,114.31 L301.84,114.75 L302.30,115.19 L302.76,115.64 L303.22,116.08 L303.67,116.53 L304.13,116.98 L304.59,117.44 L305.04,117.90 L305.50,118.35 L305.96,118.82 L306.41,119.28 L306.87,119.75 L307.33,120.22 L307.79,120.69 L308.24,121.16 L308.70,121.64 L309.16,122.11 L309.61,122.60 L310.07,123.08 L310.53,123.56 L310.98,124.05 L311.44,124.54 L311.90,125.04 L312.36,125.53 L312.81,126.03 L313.27,126.54 L313.73,127.04 L314.18,127.55 L314.64,128.06 L315.10,128.57 L315.55,129.08 L316.01,129.60 L316.47,130.12 L316.92,130.64 L317.38,131.17 L317.84,131.70 L318.30,132.23 L318.75,132.76 L319.21,133.30 L319.67,133.84 L320.12,134.38 L320.58,134.93 L321.04,135.48 L321.49,136.03 L321.95,136.58 L322.41,137.14 L322.87,137.70 L323.32,138.26 L323.78,138.83 L324.24,139.40 L324.69,139.97 L325.15,140.54 L325.61,141.12 L326.06,141.70 L326.52,142.29 L326.98,142.87 L327.44,143.46 L327.89,144.06 L328.35,144.65 L328.81,145.25 L329.26,145.86 L329.72,146.46 L330.18,147.07 L330.63,147.69 L331.09,148.30 L331.55,148.92 L332.01,149.54 L332.46,150.17 L332.92,150.80 L333.38,151.43 L333.83,152.07 L334.29,152.71 L334.75,153.35 L335.20,153.99 L335.66,154.64 L336.12,155.30 L336.57,155.95 L337.03,156.61 L337.49,157.28 L337.95,157.94 L338.40,158.62 L338.86,159.29 L339.32,159.97 L339.77,160.65 L340.23,161.33 L340.69,162.02 L341.14,162.72 L341.60,163.41 L342.06,164.11 L342.52,164.82 L342.97,165.52 L343.43,166.23 L343.89,166.95 L344.34,167.67 L344.80,168.39 L345.26,169.12 L345.71,169.85 L346.17,170.58 L346.63,171.32 L347.09,172.06 L347.54,172.81 L348.00,173.56 L348.46,174.31 L348.91,175.07 L349.37,175.84 L349.83,176.60 L350.28,177.37 L350.74,178.15 L351.20,178.93 L351.66,179.71 L352.11,180.50 L352.57,181.29 L353.03,182.09 L353.48,182.89 L353.94,183.69 L354.40,184.50 L354.85,185.31 L355.31,186.13 L355.77,186.95 L356.22,187.78 L356.68,188.61 L357.14,189.44 L357.60,190.28 L358.05,191.13 L358.51,191.98 L358.97,192.83 L359.42,193.69 L359.88,194.55 L360.34,195.42 L360.79,196.29 L361.25,197.17 L361.71,198.05 L362.17,198.94 L362.62,199.83 L363.08,200.72 L363.54,201.62 L363.99,202.53 L364.45,203.44 L364.91,204.36 L365.36,205.28 L365.82,206.20 L366.28,207.13 L366.74,208.07 L367.19,209.01 L367.65,209.95 L368.11,210.90 L368.56,211.86 L369.02,212.82 L369.48,213.79 L369.93,214.76 L370.39,215.73 L370.85,216.72 L371.31,217.70 L371.76,218.70 L372.22,219.69 L372.68,220.70 L373.13,221.71 L373.59,222.72 L374.05,223.74 L374.50,224.76 L374.96,225.79 L375.42,226.83 L375.88,227.87 L376.33,228.92 L376.79,229.97 L377.25,231.03 L377.70,232.10 L378.16,233.17 L378.62,234.24 L379.07,235.33 L379.53,236.41 L379.99,237.51 L380.44,238.61 L380.90,239.71 L381.36,240.82 L381.82,241.94 L382.27,243.06 L382.73,244.19 L383.19,245.33 L383.64,246.47 L384.10,247.62 L384.56,248.77 L385.01,249.94 L385.47,251.10 L385.93,252.28 L386.39,253.46 L386.84,254.64 L387.30,255.83 L387.76,257.03 L388.21,258.24 L388.67,259.45 L389.13,260.67 L389.58,261.89 L390.04,263.13 L390.50,264.36 L390.96,265.61 L391.41,266.86 L391.87,268.12 L392.33,269.38 L392.78,270.66 L393.24,271.94 L393.70,273.22 L394.15,274.52 L394.61,275.82 L395.07,277.12 L395.53,278.44 L395.98,279.76 L396.44,281.09 L396.90,282.42 L397.35,283.77 L397.81,285.12 L398.27,286.47 L398.72,287.84 L399.18,289.21 L399.64,290.59 L400.09,291.98 L400.55,293.37 L401.01,294.78 L401.47,296.19 L401.92,297.60 L402.38,299.03 L402.84,300.46 L403.29,301.90 L403.75,303.35 L404.21,304.81 L404.66,306.27 L405.12,307.74 L405.58,309.22 L406.04,310.71 L406.49,312.21 L406.95,313.71 L407.41,315.22 L407.86,316.75 L408.32,318.27 L408.78,319.81 L409.23,321.36 L409.69,322.91 L410.15,324.47 L410.61,326.04 L411.06,327.62 L411.52,329.21 L411.98,330.81 L412.43,332.41 L412.89,334.03 L413.35,335.65 L413.80,337.28 L414.26,338.92 L414.72,340.57" stroke="#ffff00"/>
<path d="M109.00,26.13 L109.46,26.25 L109.91,26.37 L110.37,26.49 L110.83,26.61 L111.28,26.73 L111.74,26.85 L112.20,26.97 L112.66,27.09 L113.11,27.20 L113.57,27.32 L114.03,27.44 L114.48,27.56 L114.94,27.68 L115.40,27.80 L115.85,27.92 L116.31,28.04 L116.77,28.16 L117.23,28.28 L117.68,28.40 L118.14,28.52 L118.60,28.64 L119.05,28.76 L119.51,28.88 L119.97,29.00 L120.42,29.12 L120.88,29.24 L121.34,29.36 L121.80,29.48 L122.25,29.60 L122.71,29.72 L123.17,29.84 L123.62,29.96 L124.08,30.08 L124.54,30.20 L124.99,30.32 L125.45,30.44 L125.91,30.56 L126.37,30.68 L126.82,30.80 L127.28,30.92 L127.74,31.04 L128.19,31.16 L128.65,31.28 L129.11,31.40 L129.56,31.53 L130.02,31.65 L130.48,31.77 L130.93,31.89 L131.39,32.01 L131.85,32.13 L132.31,32.25 L132.76,32.37 L133.22,32.49 L133.68,32.61 L134.13,32.73 L134.59,32.85 L135.05,32.98 L135.50,33.10 L135.96,33.22 L136.42,33.34 L136.88,33.46 L137.33,33.58 L137.79,33.70 L138.25,33.83 L138.70,33.95 L139.16,34.07 L139.62,34.19 L140.07,34.31 L140.53,34.44 L140.99,34.56 L141.45,34.68 L141.90,34.80 L142.36,34.93 L142.82,35.05 L143.27,35.17 L143.73,35.29 L144.19,35.42 L144.64,35.54 L145.10,35.66 L145.56,35.79 L146.02,35.91 L146.47,36.03 L146.93,36.16 L147.39,36.28 L147.84,36.40 L148.30,36.53 L148.76,36.65 L149.21,36.77 L149.67,36.90 L150.13,37.02 L150.58,37.15 L151.04,37.27 L151.50,37.40 L151.96,37.52 L152.41,37.65 L152.87,37.77 L153.33,37.90 L153.78,38.02 L154.24,38.15 L154.70,38.27 L155.15,38.40 L155.61,38.53 L156.07,38.65 L156.53,38.78 L156.98,38.90 L157.44,39.03 L157.90,39.16 L158.35,39.29 L158.81,39.41 L159.27,39.54 L159.72,39.67 L160.18,39.80 L160.64,39.92 L161.10,40.05 L161.55,40.18 L162.01,40.31 L162.47,40.44 L162.92,40.57 L163.38,40.69 L163.84,40.82 L164.29,40.95 L164.75,41.08 L165.21,41.21 L165.67,41.34 L166.12,41.47 L166.58,41.60 L167.04,41.73 L167.49,41.87 L167.95,42.00 L168.41,42.13 L168.86,42.26 L169.32,42.39 L169.78,42.52 L170.24,42.66 L170.69,42.79 L171.15,42.92 L171.61,43.06 L172.06,43.19 L172.52,43.32 L172.98,43.46 L173.43,43.59 L173.89,43.73 L174.35,43.86 L174.80,44.00 L175.26,44.13 L175.72,44.27 L176.18,44.41 L176.63,44.54 L177.09,44.68 L177.55,44.82 L178.00,44.95 L178.46,45.09 L178.92,45.23 L179.37,45.37 L179.83,45.51 L180.29,45.65 L180.75,45.79 L181.20,45.93 L181.66,46.07 L182.12,46.21 L182.57,46.35 L183.03,46.49 L183.49,46.63 L183.94,46.78 L184.40,46.92 L184.86,47.06 L185.32,47.20 L185.77,47.35 L186.23,47.49 L186.69,47.64 L187.14,47.78 L187.60,47.93 L188.06,48.07 L188.51,48.22 L188.97,48.37 L189.43,48.51 L189.89,48.66 L190.34,48.81 L190.80,48.96 L191.26,49.11 L191.71,49.26 L192.17,49.41 L192.63,49.56 L193.08,49.71 L193.54,49.86 L194.00,50.01 L194.45,50.16 L194.91,50.32 L195.37,50.47 L195.83,50.62 L196.28,50.78 L196.74,50.93 L197.20,51.09 L197.65,51.24 L198.11,51.40 L198.57,51.55 L199.02,51.71 L199.48,51.87 L199.94,52.02 L200.40,52.18 L200.85,52.34 L201.31,52.50 L201.77,52.66 L202.22,52.82 L202.68,52.98 L203.14,53.14 L203.59,53.30 L204.05,53.46 L204.51,53.62 L204.97,53.79 L205.42,53.95 L205.88,54.11 L206.34,54.27 L206.79,54.44 L207.25,54.60 L207.71,54.77 L208.16,54.93 L208.62,55.10 L209.08,55.26 L209.54,55.43 L209.99,55.60 L210.45,55.77 L210.91,55.93 L211.36,56.10 L211.82,56.27 L212.28,56.44 L212.73,56.61 L213.19,56.78 L213.65,56.95 L214.10,57.12 L214.56,57.29 L215.02,57.46 L215.48,57.63 L215.93,57.80 L216.39,57.97 L216.85,58.14 L217.30,58.32 L217.76,58.49 L218.22,58.66 L218.67,58.84 L219.13,59.01 L219.59,59.19 L220.05,59.36 L220.50,59.54 L220.96,59.71 L221.42,59.89 L221.87,60.06 L222.33,60.24 L222.79,60.42 L223.24,60.59 L223.70,60.77 L224.16,60.95 L224.62,61.13 L225.07,61.31 L225.53,61.49 L225.99,61.67 L226.44,61.85 L226.90,62.03 L227.36,62.21 L227.81,62.39 L228.27,62.57 L228.73,62.75 L229.19,62.93 L229.64,63.12 L230.10,63.30 L230.56,63.48 L231.01,63.67 L231.47,63.85 L231.93,64.04 L232.38,64.22 L232.84,64.41 L233.30,64.60 L233.75,64.78 L234.21,64.97 L234.67,65.16 L235.13,65.35 L235.58,65.54 L236.04,65.73 L236.50,65.92 L236.95,66.11 L237.41,66.30 L237.87,66.49 L238.32,66.69 L238.78,66.88 L239.24,67.07 L239.70,67.27 L240.15,67.47 L240.61,67.66 L241.07,67.86 L241.52,68.06 L241.98,68.25 L242.44,68.45 L242.89,68.65 L243.35,68.85 L243.81,69.06 L244.27,69.26 L244.72,69.46 L245.18,69.66 L245.64,69.87 L246.09,70.07 L246.55,70.28 L247.01,70.49 L247.46,70.70 L247.92,70.91 L248.38,71.11 L248.84,71.33 L249.29,71.54 L249.75,71.75 L250.21,71.96 L250.66,72.18 L251.12,72.39 L251.58,72.61 L252.03,72.83 L252.49,73.05 L252.95,73.26 L253.40,73.49 L253.86,73.71 L254.32,73.93 L254.78,74.15 L255.23,74.38 L255.69,74.60 L256.15,74.83 L256.60,75.06 L257.06,75.29 L257.52,75.52 L257.97,75.75 L258.43,75.98 L258.89,76.21 L259.35,76.45 L259.80,76.68 L260.26,76.92 L260.72,77.16 L261.17,77.39 L261.63,77.63 L262.09,77.88 L262.54,78.12 L263.00,78.36 L263.46,78.61 L263.92,78.85 L264.37,79.10 L264.83,79.35 L265.29,79.60 L265.74,79.85 L266.20,80.10 L266.66,80.35 L267.11,80.61 L267.57,80.86 L268.03,81.12 L268.49,81.38 L268.94,81.64 L269.40,81.90 L269.86,82.16 L270.31,82.42 L270.77,82.69 L271.23,82.95 L271.68,83.22 L272.14,83.49 L272.60,83.76 L273.06,84.03 L273.51,84.30 L273.97,84.57 L274.43,84.85 L274.88,85.13 L275.34,85.40 L275.80,85.68 L276.25,85.96 L276.71,86.24 L277.17,86.53 L277.62,86.81 L278.08,87.10 L278.54,87.38 L279.00,87.67 L279.45,87.96 L279.91,88.25 L280.37,88.55 L280.82,88.84 L281.28,89.14 L281.74,89.43 L282.19,89.73 L282.65,90.03 L283.11,90.33 L283.57,90.64 L284.02,90.94 L284.48,91.25 L284.94,91.55 L285.39,91.86 L285.85,92.17 L286.31,92.49 L286.76,92.80 L287.22,93.11 L287.68,93.43 L288.14,93.75 L288.59,94.07 L289.05,94.39 L289.51,94.71 L289.96,95.03 L290.42,95.36 L290.88,95.69 L291.33,96.02 L291.79,96.35 L292.25,96.68 L292.71,97.01 L293.16,97.35 L293.62,97.69 L294.08,98.02 L294.53,98.36 L294.99,98.71 L295.45,99.05 L295.90,99.40 L296.36,99.74 L296.82,100.09 L297.27,100.44 L297.73,100.79 L298.19,101.15 L298.65,101.50 L299.10,101.86 L299.56,102.22 L300.02,102.58 L300.47,102.94 L300.93,103.31 L301.39,103.68 L301.84,104.04 L302.30,104.41 L302.76,104.79 L303.22,105.16 L303.67,105.53 L304.13,105.91 L304.59,106.29 L305.04,106.67 L305.50,107.06 L305.96,107.44 L306.41,107.83 L306.87,108.22 L307.33,108.61 L307.79,109.00 L308.24,109.40 L308.70,109.79 L309.16,110.19 L309.61,110.59 L310.07,110.99 L310.53,111.40 L310.98,111.81 L311.44,112.22 L311.90,112.63 L312.36,113.04 L312.81,113.46 L313.27,113.87 L313.73,114.29 L314.18,114.71 L314.64,115.14 L315.10,115.56 L315.55,115.99 L316.01,116.42 L316.47,116.85 L316.92,117.29 L317.38,117.73 L317.84,118.16 L318.30,118.61 L318.75,119.05 L319.21,119.49 L319.67,119.94 L320.12,120.39 L320.58,120.85 L321.04,121.30 L321.49,121.76 L321.95,122.22 L322.41,122.68 L322.87,123.15 L323.32,123.61 L323.78,124.08 L324.24,124.55 L324.69,125.03 L325.15,125.50 L325.61,125.98 L326.06,126.46 L326.52,126.95 L326.98,127.44 L327.44,127.92 L327.89,128.42 L328.35,128.91 L328.81,129.41 L329.26,129.91 L329.72,130.41 L330.18,130.91 L330.63,131.42 L331.09,131.93 L331.55,132.44 L332.01,132.96 L332.46,133.47 L332.92,133.99 L333.38,134.52 L333.83,135.04 L334.29,135.57 L334.75,136.10 L335.20,136.64 L335.66,137.18 L336.12,137.72 L336.57,138.26 L337.03,138.80 L337.49,139.35 L337.95,139.90 L338.40,140.46 L338.86,141.01 L339.32,141.57 L339.77,142.14 L340.23,142.70 L340.69,143.27 L341.14,143.84 L341.60,144.42 L342.06,145.00 L342.52,145.58 L342.97,146.16 L343.43,146.75 L343.89,147.34 L344.34,147.93 L344.80,148.53 L345.26,149.13 L345.71,149.73 L346.17,150.34 L346.63,150.95 L347.09,151.56 L347.54,152.17 L348.00,152.79 L348.46,153.41 L348.91,154.04 L349.37,154.67 L349.83,155.30 L350.28,155.94 L350.74,156.57 L351.20,157.22 L351.66,157.86 L352.11,158.51 L352.57,159.16 L353.03,159.82 L353.48,160.48 L353.94,161.14 L354.40,161.81 L354.85,162.48 L355.31,163.15 L355.77,163.83 L356.22,164.51 L356.68,165.19 L357.14,165.88 L357.60,166.57 L358.05,167.27 L358.51,167.97 L358.97,168.67 L359.42,169.38 L359.88,170.09 L360.34,170.80 L360.79,171.52 L361.25,172.24 L361.71,172.97 L362.17,173.70 L362.62,174.43 L363.08,175.17 L363.54,175.91 L363.99,176.66 L364.45,177.41 L364.91,178.16 L365.36,178.92 L365.82,179.68 L366.28,180.44 L366.74,181.21 L367.19,181.99 L367.65,182.76 L368.11,183.55 L368.56,184.33 L369.02,185.12 L369.48,185.92 L369.93,186.72 L370.39,187.52 L370.85,188.33 L371.31,189.14 L371.76,189.96 L372.22,190.78 L372.68,191.60 L373.13,192.43 L373.59,193.27 L374.05,194.10 L374.50,194.95 L374.96,195.79 L375.42,196.65 L375.88,197.50 L376.33,198.36 L376.79,199.23 L377.25,200.10 L377.70,200.98 L378.16,201.86 L378.62,202.74 L379.07,203.63 L379.53,204.52 L379.99,205.42 L380.44,206.33 L380.90,207.24 L381.36,208.15 L381.82,209.07 L382.27,209.99 L382.73,210.92 L383.19,211.86 L383.64,212.79 L384.10,213.74 L384.56,214.69 L385.01,215.64 L385.47,216.60 L385.93,217.56 L386.39,218.53 L386.84,219.51 L387.30,220.49 L387.76,221.47 L388.21,222.46 L388.67,223.46 L389.13,224.46 L389.58,225.47 L390.04,226.48 L390.50,227.50 L390.96,228.52 L391.41,229.55 L391.87,230.58 L392.33,231.62 L392.78,232.67 L393.24,233.72 L393.70,234.78 L394.15,235.84 L394.61,236.91 L395.07,237.98 L395.53,239.06 L395.98,240.15 L396.44,241.24 L396.90,242.34 L397.35,243.44 L397.81,244.55 L398.27,245.67 L398.72,246.79 L399.18,247.92 L399.64,249.05 L400.09,250.19 L400.55,251.34 L401.01,252.49 L401.47,253.65 L401.92,254.81 L402.38,255.98 L402.84,257.16 L403.29,258.35 L403.75,259.54 L404.21,260.73 L404.66,261.94 L405.12,263.15 L405.58,264.36 L406.04,265.59 L406.49,266.81 L406.95,268.05 L407.41,269.29 L407.86,270.54 L408.32,271.80 L408.78,273.06 L409.23,274.33 L409.69,275.61 L410.15,276.90 L410.61,278.19 L411.06,279.48 L411.52,280.79 L411.98,282.10 L412.43,283.42 L412.89,284.75 L413.35,286.08 L413.80,287.42 L414.26,288.77 L414.72,290.13 L415.18,291.49 L415.63,292.86 L416.09,294.24 L416.55,295.62 L417.00,297.01 L417.46,298.41 L417.92,299.82 L418.37,301.24 L418.83,302.66 L419.29,304.09 L419.74,305.53 L420.20,306.98 L420.66,308.43 L421.12,309.89 L421.57,311.36 L422.03,312.84 L422.49,314.33 L422.94,315.82 L423.40,317.32 L423.86,318.83 L424.31,320.35 L424.77,321.88 L425.23,323.42 L425.69,324.96 L426.14,326.51 L426.60,328.07 L427.06,329.64 L427.51,331.22 L427.97,332.80 L428.43,334.40 L428.88,336.00 L429.34,337.61 L429.80,339.23 L430.26,340.86" stroke="#0000aa" stroke-dasharray="21.5 20.5" stroke-dashoffset="2.79"/>
<path d="M109.00,24.78 L109.46,24.88 L109.91,24.98 L110.37,25.08 L110.83,25.18 L111.28,25.28 L111.74,25.38 L112.20,25.48 L112.66,25.58 L113.11,25.68 L113.57,25.79 L114.03,25.89 L114.48,25.99 L114.94,26.10 L115.40,26.20 L115.85,26.31 L116.31,26.41 L116.77,26.51 L117.23,26.62 L117.68,26.73 L118.14,26.83 L118.60,26.94 L119.05,27.04 L119.51,27.15 L119.97,27.26 L120.42,27.37 L120.88,27.47 L121.34,27.58 L121.80,27.69 L122.25,27.80 L122.71,27.91 L123.17,28.02 L123.62,28.13 L124.08,28.23 L124.54,28.34 L124.99,28.45 L125.45,28.56 L125.91,28.67 L126.37,28.78 L126.82,28.89 L127.28,29.00 L127.74,29.11 L128.19,29.22 L128.65,29.33 L129.11,29.44 L129.56,29.55 L130.02,29.66 L130.48,29.77 L130.93,29.88 L131.39,29.99 L131.85,30.11 L132.31,30.22 L132.76,30.33 L133.22,30.44 L133.68,30.55 L134.13,30.66 L134.59,30.77 L135.05,30.88 L135.50,30.99 L135.96,31.10 L136.42,31.21 L136.88,31.32 L137.33,31.43 L137.79,31.54 L138.25,31.65 L138.70,31.76 L139.16,31.87 L139.62,31.98 L140.07,32.09 L140.53,32.20 L140.99,32.31 L141.45,32.42 L141.90,32.53 L142.36,32.64 L142.82,32.75 L143.27,32.86 L143.73,32.97 L144.19,33.08 L144.64,33.19 L145.10,33.30 L145.56,33.41 L146.02,33.52 L146.47,33.63 L146.93,33.74 L147.39,33.85 L147.84,33.96 L148.30,34.07 L148.76,34.18 L149.21,34.29 L149.67,34.40 L150.13,34.50 L150.58,34.61 L151.04,34.72 L151.50,34.83 L151.96,34.94 L152.41,35.05 L152.87,35.16 L153.33,35.27 L153.78,35.38 L154.24,35.49 L154.70,35.60 L155.15,35.71 L155.61,35.82 L156.07,35.93 L156.53,36.04 L156.98,36.16 L157.44,36.27 L157.90,36.38 L158.35,36.49 L158.81,36.60 L159.27,36.71 L159.72,36.82 L160.18,36.93 L160.64,37.04 L161.10,37.15 L161.55,37.26 L162.01,37.38 L162.47,37.49 L162.92,37.60 L163.38,37.71 L163.84,37.82 L164.29,37.93 L164.75,38.05 L165.21,38.16 L165.67,38.27 L166.12,38.38 L166.58,38.50 L167.04,38.61 L167.49,38.72 L167.95,38.83 L168.41,38.95 L168.86,39.06 L169.32,39.17 L169.78,39.29 L170.24,39.40 L170.69,39.52 L171.15,39.63 L171.61,39.74 L172.06,39.86 L172.52,39.97 L172.98,40.09 L173.43,40.20 L173.89,40.32 L174.35,40.43 L174.80,40.55 L175.26,40.66 L175.72,40.78 L176.18,40.89 L176.63,41.01 L177.09,41.12 L177.55,41.24 L178.00,41.36 L178.46,41.47 L178.92,41.59 L179.37,41.71 L179.83,41.82 L180.29,41.94 L180.75,42.06 L181.20,42.17 L181.66,42.29 L182.12,42.41 L182.57,42.53 L183.03,42.65 L183.49,42.76 L183.94,42.88 L184.40,43.00 L184.86,43.12 L185.32,43.24 L185.77,43.36 L186.23,43.48 L186.69,43.60 L187.14,43.72 L187.60,43.84 L188.06,43.96 L188.51,44.08 L188.97,44.20 L189.43,44.32 L189.89,44.44 L190.34,44.56 L190.80,44.68 L191.26,44.80 L191.71,44.92 L192.17,45.04 L192.63,45.17 L193.08,45.29 L193.54,45.41 L194.00,45.53 L194.45,45.66 L194.91,45.78 L195.37,45.90 L195.83,46.02 L196.28,46.15 L196.74,46.27 L197.20,46.40 L197.65,46.52 L198.11,46.64 L198.57,46.77 L199.02,46.89 L199.48,47.02 L199.94,47.14 L200.40,47.27 L200.85,47.39 L201.31,47.52 L201.77,47.64 L202.22,47.77 L202.68,47.90 L203.14,48.02 L203.59,48.15 L204.05,48.28 L204.51,48.40 L204.97,48.53 L205.42,48.66 L205.88,48.79 L206.34,48.91 L206.79,49.04 L207.25,49.17 L207.71,49.30 L208.16,49.43 L208.62,49.56 L209.08,49.69 L209.54,49.82 L209.99,49.95 L210.45,50.08 L210.91,50.21 L211.36,50.34 L211.82,50.47 L212.28,50.60 L212.73,50.73 L213.19,50.86 L213.65,50.99 L214.10,51.13 L214.56,51.26 L215.02,51.39 L215.48,51.52 L215.93,51.66 L216.39,51.79 L216.85,51.92 L217.30,52.06 L217.76,52.19 L218.22,52.33 L218.67,52.46 L219.13,52.59 L219.59,52.73 L220.05,52.87 L220.50,53.00 L220.96,53.14 L221.42,53.27 L221.87,53.41 L222.33,53.55 L222.79,53.68 L223.24,53.82 L223.70,53.96 L224.16,54.09 L224.62,54.23 L225.07,54.37 L225.53,54.51 L225.99,54.65 L226.44,54.79 L226.90,54.93 L227.36,55.07 L227.81,55.21 L228.27,55.35 L228.73,55.49 L229.19,55.63 L229.64,55.77 L230.10,55.91 L230.56,56.05 L231.01,56.19 L231.47,56.34 L231.93,56.48 L232.38,56.62 L232.84,56.77 L233.30,56.91 L233.75,57.05 L234.21,57.20 L234.67,57.34 L235.13,57.49 L235.58,57.63 L236.04,57.78 L236.50,57.92 L236.95,58.07 L237.41,58.22 L237.87,58.36 L238.32,58.51 L238.78,58.66 L239.24,58.80 L239.70,58.95 L240.15,59.10 L240.61,59.25 L241.07,59.40 L241.52,59.55 L241.98,59.70 L242.44,59.85 L242.89,60.00 L243.35,60.15 L243.81,60.30 L244.27,60.45 L244.72,60.60 L245.18,60.76 L245.64,60.91 L246.09,61.06 L246.55,61.21 L247.01,61.37 L247.46,61.52 L247.92,61.68 L248.38,61.83 L248.84,61.99 L249.29,62.14 L249.75,62.30 L250.21,62.45 L250.66,62.61 L251.12,62.77 L251.58,62.93 L252.03,63.08 L252.49,63.24 L252.95,63.40 L253.40,63.56 L253.86,63.72 L254.32,63.88 L254.78,64.04 L255.23,64.20 L255.69,64.36 L256.15,64.52 L256.60,64.68 L257.06,64.85 L257.52,65.01 L257.97,65.17 L258.43,65.33 L258.89,65.50 L259.35,65.66 L259.80,65.83 L260.26,65.99 L260.72,66.16 L261.17,66.32 L261.63,66.49 L262.09,66.66 L262.54,66.83 L263.00,66.99 L263.46,67.16 L263.92,67.33 L264.37,67.50 L264.83,67.67 L265.29,67.84 L265.74,68.01 L266.20,68.18 L266.66,68.35 L267.11,68.52 L267.57,68.70 L268.03,68.87 L268.49,69.04 L268.94,69.22 L269.40,69.39 L269.86,69.57 L270.31,69.74 L270.77,69.92 L271.23,70.09 L271.68,70.27 L272.14,70.45 L272.60,70.63 L273.06,70.80 L273.51,70.98 L273.97,71.16 L274.43,71.34 L274.88,71.52 L275.34,71.71 L275.80,71.89 L276.25,72.07 L276.71,72.25 L277.17,72.43 L277.62,72.62 L278.08,72.80 L278.54,72.99 L279.00,73.17 L279.45,73.36 L279.91,73.55 L280.37,73.73 L280.82,73.92 L281.28,74.11 L281.74,74.30 L282.19,74.49 L282.65,74.68 L283.11,74.87 L283.57,75.06 L284.02,75.25 L284.48,75.45 L284.94,75.64 L285.39,75.84 L285.85,76.03 L286.31,76.23 L286.76,76.42 L287.22,76.62 L287.68,76.82 L288.14,77.02 L288.59,77.21 L289.05,77.41 L289.51,77.62 L289.96,77.82 L290.42,78.02 L290.88,78.22 L291.33,78.43 L291.79,78.63 L292.25,78.84 L292.71,79.04 L293.16,79.25 L293.62,79.46 L294.08,79.67 L294.53,79.88 L294.99,80.09 L295.45,80.30 L295.90,80.51 L296.36,80.73 L296.82,80.94 L297.27,81.15 L297.73,81.37 L298.19,81.59 L298.65,81.81 L299.10,82.03 L299.56,82.25 L300.02,82.47 L300.47,82.69 L300.93,82.92 L301.39,83.14 L301.84,83.37 L302.30,83.59 L302.76,83.82 L303.22,84.05 L303.67,84.28 L304.13,84.51 L304.59,84.75 L305.04,84.98 L305.50,85.21 L305.96,85.45 L306.41,85.69 L306.87,85.93 L307.33,86.17 L307.79,86.41 L308.24,86.65 L308.70,86.89 L309.16,87.14 L309.61,87.38 L310.07,87.63 L310.53,87.88 L310.98,88.13 L311.44,88.38 L311.90,88.63 L312.36,88.88 L312.81,89.13 L313.27,89.39 L313.73,89.64 L314.18,89.90 L314.64,90.16 L315.10,90.42 L315.55,90.68 L316.01,90.94 L316.47,91.20 L316.92,91.46 L317.38,91.72 L317.84,91.99 L318.30,92.25 L318.75,92.52 L319.21,92.78 L319.67,93.05 L320.12,93.32 L320.58,93.59 L321.04,93.86 L321.49,94.13 L321.95,94.40 L322.41,94.67 L322.87,94.94 L323.32,95.21 L323.78,95.49 L324.24,95.76 L324.69,96.03 L325.15,96.31 L325.61,96.58 L326.06,96.86 L326.52,97.13 L326.98,97.41 L327.44,97.68 L327.89,97.96 L328.35,98.23 L328.81,98.51 L329.26,98.79 L329.72,99.06 L330.18,99.34 L330.63,99.62 L331.09,99.90 L331.55,100.17 L332.01,100.45 L332.46,100.73 L332.92,101.01 L333.38,101.29 L333.83,101.57 L334.29,101.85 L334.75,102.13 L335.20,102.41 L335.66,102.69 L336.12,102.97 L336.57,103.25 L337.03,103.53 L337.49,103.82 L337.95,104.10 L338.40,104.38 L338.86,104.67 L339.32,104.95 L339.77,105.24 L340.23,105.52 L340.69,105.81 L341.14,106.10 L341.60,106.38 L342.06,106.67 L342.52,106.96 L342.97,107.25 L343.43,107.54 L343.89,107.84 L344.34,108.13 L344.80,108.43 L345.26,108.72 L345.71,109.02 L346.17,109.32 L346.63,109.62 L347.09,109.92 L347.54,110.22 L348.00,110.52 L348.46,110.83 L348.91,111.13 L349.37,111.44 L349.83,111.75 L350.28,112.06 L350.74,112.37 L351.20,112.69 L351.66,113.00 L352.11,113.32 L352.57,113.64 L353.03,113.96 L353.48,114.29 L353.94,114.61 L354.40,114.94 L354.85,115.26 L355.31,115.59 L355.77,115.93 L356.22,116.26 L356.68,116.60 L357.14,116.93 L357.60,117.27 L358.05,117.62 L358.51,117.96 L358.97,118.30 L359.42,118.65 L359.88,119.00 L360.34,119.35 L360.79,119.71 L361.25,120.06 L361.71,120.42 L362.17,120.78 L362.62,121.14 L363.08,121.51 L363.54,121.87 L363.99,122.24 L364.45,122.61 L364.91,122.98 L365.36,123.36 L365.82,123.73 L366.28,124.11 L366.74,124.49 L367.19,124.87 L367.65,125.26 L368.11,125.64 L368.56,126.03 L369.02,126.42 L369.48,126.82 L369.93,127.21 L370.39,127.61 L370.85,128.01 L371.31,128.41 L371.76,128.81 L372.22,129.22 L372.68,129.62 L373.13,130.03 L373.59,130.44 L374.05,130.86 L374.50,131.27 L374.96,131.69 L375.42,132.11 L375.88,132.53 L376.33,132.96 L376.79,133.39 L377.25,133.81 L377.70,134.24 L378.16,134.68 L378.62,135.11 L379.07,135.55 L379.53,135.99 L379.99,136.43 L380.44,136.88 L380.90,137.32 L381.36,137.77 L381.82,138.22 L382.27,138.67 L382.73,139.13 L383.19,139.59 L383.64,140.05 L384.10,140.51 L384.56,140.97 L385.01,141.44 L385.47,141.91 L385.93,142.38 L386.39,142.85 L386.84,143.33 L387.30,143.81 L387.76,144.29 L388.21,144.77 L388.67,145.26 L389.13,145.74 L389.58,146.23 L390.04,146.73 L390.50,147.22 L390.96,147.72 L391.41,148.22 L391.87,148.72 L392.33,149.23 L392.78,149.74 L393.24,150.25 L393.70,150.76 L394.15,151.28 L394.61,151.79 L395.07,152.31 L395.53,152.84 L395.98,153.36 L396.44,153.89 L396.90,154.42 L397.35,154.96 L397.81,155.50 L398.27,156.04 L398.72,156.58 L399.18,157.12 L399.64,157.67 L400.09,158.22 L400.55,158.78 L401.01,159.33 L401.47,159.89 L401.92,160.45 L402.38,161.02 L402.84,161.59 L403.29,162.16 L403.75,162.73 L404.21,163.31 L404.66,163.89 L405.12,164.47 L405.58,165.06 L406.04,165.65 L406.49,166.24 L406.95,166.83 L407.41,167.43 L407.86,168.03 L408.32,168.64 L408.78,169.24 L409.23,169.86 L409.69,170.47 L410.15,171.09 L410.61,171.71 L411.06,172.33 L411.52,172.96 L411.98,173.59 L412.43,174.22 L412.89,174.86 L413.35,175.50 L413.80,176.14 L414.26,176.79 L414.72,177.44 L415.18,178.09 L415.63,178.75 L416.09,179.41 L416.55,180.08 L417.00,180.75 L417.46,181.42 L417.92,182.09 L418.37,182.77 L418.83,183.45 L419.29,184.14 L419.74,184.83 L420.20,185.52 L420.66,186.22 L421.12,186.92 L421.57,187.63 L422.03,188.34 L422.49,189.05 L422.94,189.76 L423.40,190.48 L423.86,191.21 L424.31,191.94 L424.77,192.67 L425.23,193.40 L425.69,194.14 L426.14,194.89 L426.60,195.63 L427.06,196.39 L427.51,197.14 L427.97,197.90 L428.43,198.67 L428.88,199.44 L429.34,200.21 L429.80,200.98 L430.26,201.77 L430.71,202.55 L431.17,203.34 L431.63,204.13 L432.08,204.93 L432.54,205.74 L433.00,206.54 L433.45,207.35 L433.91,208.17 L434.37,208.99 L434.83,209.82 L435.28,210.65 L435.74,211.48 L436.20,212.32 L436.65,213.16 L437.11,214.01 L437.57,214.86 L438.02,215.72 L438.48,216.58 L438.94,217.45 L439.39,218.32 L439.85,219.20 L440.31,220.08 L440.77,220.97 L441.22,221.86 L441.68,222.76 L442.14,223.66 L442.59,224.56 L443.05,225.48 L443.51,226.39 L443.96,227.32 L444.42,228.24 L444.88,229.17 L445.34,230.11 L445.79,231.06 L446.25,232.00 L446.71,232.96 L447.16,233.92 L447.62,234.88 L448.08,235.85 L448.53,236.82 L448.99,237.81 L449.45,238.79 L449.91,239.78 L450.36,240.78 L450.82,241.78 L451.28,242.79 L451.73,243.81 L452.19,244.83 L452.65,245.85 L453.10,246.88 L453.56,247.92 L454.02,248.97 L454.48,250.02 L454.93,251.07 L455.39,252.13 L455.85,253.20 L456.30,254.27 L456.76,255.35 L457.22,256.44 L457.67,257.53 L458.13,258.63 L458.59,259.73 L459.04,260.85 L459.50,261.96 L459.96,263.09 L460.42,264.22 L460.87,265.35 L461.33,266.50 L461.79,267.65 L462.24,268.80 L462.70,269.97 L463.16,271.14 L463.61,272.31 L464.07,273.50 L464.53,274.69 L464.99,275.88 L465.44,277.09 L465.90,278.30 L466.36,279.52 L466.81,280.74 L467.27,281.97 L467.73,283.21 L468.18,284.46 L468.64,285.71 L469.10,286.97 L469.56,288.24 L470.01,289.52 L470.47,290.80 L470.93,292.09 L471.38,293.39 L471.84,294.69 L472.30,296.01 L472.75,297.33 L473.21,298.66 L473.67,299.99 L474.13,301.34 L474.58,302.69 L475.04,304.05 L475.50,305.41 L475.95,306.79 L476.41,308.17 L476.87,309.57 L477.32,310.97 L477.78,312.37 L478.24,313.79 L478.70,315.21 L479.15,316.65 L479.61,318.09 L480.07,319.54 L480.52,321.00 L480.98,322.46 L481.44,323.94 L481.89,325.42 L482.35,326.92 L482.81,328.42 L483.26,329.93 L483.72,331.45 L484.18,332.98 L484.64,334.52 L485.09,336.06 L485.55,337.62 L486.01,339.18 L486.46,340.76" stroke="#ff8080" stroke-dasharray="11.8 10.2" stroke-dashoffset="0.00"/>
<path d="M109.00,24.78 L109.46,24.88 L109.91,24.98 L110.37,25.08 L110.83,25.18 L111.28,25.28 L111.74,25.38 L112.20,25.48 L112.66,25.58 L113.11,25.68 L113.57,25.79 L114.03,25.89 L114.48,25.99 L114.94,26.10 L115.40,26.20 L115.85,26.31 L116.31,26.41 L116.77,26.51 L117.23,26.62 L117.68,26.73 L118.14,26.83 L118.60,26.94 L119.05,27.04 L119.51,27.15 L119.97,27.26 L120.42,27.37 L120.88,27.47 L121.34,27.58 L121.80,27.69 L122.25,27.80 L122.71,27.91 L123.17,28.02 L123.62,28.13 L124.08,28.23 L124.54,28.34 L124.99,28.45 L125.45,28.56 L125.91,28.67 L126.37,28.78 L126.82,28.89 L127.28,29.00 L127.74,29.11 L128.19,29.22 L128.65,29.33 L129.11,29.44 L129.56,29.55 L130.02,29.66 L130.48,29.77 L130.93,29.88 L131.39,29.99 L131.85,30.11 L132.31,30.22 L132.76,30.33 L133.22,30.44 L133.68,30.55 L134.13,30.66 L134.59,30.77 L135.05,30.88 L135.50,30.99 L135.96,31.10 L136.42,31.21 L136.88,31.32 L137.33,31.43 L137.79,31.54 L138.25,31.65 L138.70,31.76 L139.16,31.87 L139.62,31.98 L140.07,32.09 L140.53,32.20 L140.99,32.31 L141.45,32.42 L141.90,32.53 L142.36,32.64 L142.82,32.75 L143.27,32.86 L143.73,32.97 L144.19,33.08 L144.64,33.19 L145.10,33.30 L145.56,33.41 L146.02,33.52 L146.47,33.63 L146.93,33.74 L147.39,33.85 L147.84,33.96 L148.30,34.07 L148.76,34.18 L149.21,34.29 L149.67,34.40 L150.13,34.50 L150.58,34.61 L151.04,34.72 L151.50,34.83 L151.96,34.94 L152.41,35.05 L152.87,35.16 L153.33,35.27 L153.78,35.38 L154.24,35.49 L154.70,35.60 L155.15,35.71 L155.61,35.82 L156.07,35.93 L156.53,36.04 L156.98,36.16 L157.44,36.27 L157.90,36.38 L158.35,36.49 L158.81,36.60 L159.27,36.71 L159.72,36.82 L160.18,36.93 L160.64,37.04 L161.10,37.15 L161.55,37.26 L162.01,37.38 L162.47,37.49 L162.92,37.60 L163.38,37.71 L163.84,37.82 L164.29,37.93 L164.75,38.05 L165.21,38.16 L165.67,38.27 L166.12,38.38 L166.58,38.50 L167.04,38.61 L167.49,38.72 L167.95,38.83 L168.41,38.95 L168.86,39.06 L169.32,39.17 L169.78,39.29 L170.24,39.40 L170.69,39.52 L171.15,39.63 L171.61,39.74 L172.06,39.86 L172.52,39.97 L172.98,40.09 L173.43,40.20 L173.89,40.32 L174.35,40.43 L174.80,40.55 L175.26,40.66 L175.72,40.78 L176.18,40.89 L176.63,41.01 L177.09,41.12 L177.55,41.24 L178.00,41.36 L178.46,41.47 L178.92,41.59 L179.37,41.71 L179.83,41.82 L180.29,41.94 L180.75,42.06 L181.20,42.17 L181.66,42.29 L182.12,42.41 L182.57,42.53 L183.03,42.65 L183.49,42.76 L183.94,42.88 L184.40,43.00 L184.86,43.12 L185.32,43.24 L185.77,43.36 L186.23,43.48 L186.69,43.60 L187.14,43.72 L187.60,43.84 L188.06,43.96 L188.51,44.08 L188.97,44.20 L189.43,44.32 L189.89,44.44 L190.34,44.56 L190.80,44.68 L191.26,44.80 L191.71,44.92 L192.17,45.04 L192.63,45.17 L193.08,45.29 L193.54,45.41 L194.00,45.53 L194.45,45.66 L194.91,45.78 L195.37,45.90 L195.83,46.02 L196.28,46.15 L196.74,46.27 L197.20,46.40 L197.65,46.52 L198.11,46.64 L198.57,46.77 L199.02,46.89 L199.48,47.02 L199.94,47.14 L200.40,47.27 L200.85,47.39 L201.31,47.52 L201.77,47.64 L202.22,47.77 L202.68,47.90 L203.14,48.02 L203.59,48.15 L204.05,48.28 L204.51,48.40 L204.97,48.53 L205.42,48.66 L205.88,48.79 L206.34,48.91 L206.79,49.04 L207.25,49.17 L207.71,49.30 L208.16,49.43 L208.62,49.56 L209.08,49.69 L209.54,49.82 L209.99,49.95 L210.45,50.08 L210.91,50.21 L211.36,50.34 L211.82,50.47 L212.28,50.60 L212.73,50.73 L213.19,50.86 L213.65,50.99 L214.10,51.13 L214.56,51.26 L215.02,51.39 L215.48,51.52 L215.93,51.66 L216.39,51.79 L216.85,51.92 L217.30,52.06 L217.76,52.19 L218.22,52.33 L218.67,52.46 L219.13,52.59 L219.59,52.73 L220.05,52.87 L220.50,53.00 L220.96,53.14 L221.42,53.27 L221.87,53.41 L222.33,53.55 L222.79,53.68 L223.24,53.82 L223.70,53.96 L224.16,54.09 L224.62,54.23 L225.07,54.37 L225.53,54.51 L225.99,54.65 L226.44,54.79 L226.90,54.93 L227.36,55.07 L227.81,55.21 L228.27,55.35 L228.73,55.49 L229.19,55.63 L229.64,55.77 L230.10,55.91 L230.56,56.05 L231.01,56.19 L231.47,56.34 L231.93,56.48 L232.38,56.62 L232.84,56.77 L233.30,56.91 L233.75,57.05 L234.21,57.20 L234.67,57.34 L235.13,57.49 L235.58,57.63 L236.04,57.78 L236.50,57.92 L236.95,58.07 L237.41,58.22 L237.87,58.36 L238.32,58.51 L238.78,58.66 L239.24,58.80 L239.70,58.95 L240.15,59.10 L240.61,59.25 L241.07,59.40 L241.52,59.55 L241.98,59.70 L242.44,59.85 L242.89,60.00 L243.35,60.15 L243.81,60.30 L244.27,60.45 L244.72,60.60 L245.18,60.76 L245.64,60.91 L246.09,61.06 L246.55,61.21 L247.01,61.37 L247.46,61.52 L247.92,61.68 L248.38,61.83 L248.84,61.99 L249.29,62.14 L249.75,62.30 L250.21,62.45 L250.66,62.61 L251.12,62.77 L251.58,62.93 L252.03,63.08 L252.49,63.24 L252.95,63.40 L253.40,63.56 L253.86,63.72 L254.32,63.88 L254.78,64.04 L255.23,64.20 L255.69,64.36 L256.15,64.52 L256.60,64.68 L257.06,64.85 L257.52,65.01 L257.97,65.17 L258.43,65.33 L258.89,65.50 L259.35,65.66 L259.80,65.83 L260.26,65.99 L260.72,66.16 L261.17,66.32 L261.63,66.49 L262.09,66.66 L262.54,66.83 L263.00,66.99 L263.46,67.16 L263.92,67.33 L264.37,67.50 L264.83,67.67 L265.29,67.84 L265.74,68.01 L266.20,68.18 L266.66,68.35 L267.11,68.52 L267.57,68.70 L268.03,68.87 L268.49,69.04 L268.94,69.22 L269.40,69.39 L269.86,69.57 L270.31,69.74 L270.77,69.92 L271.23,70.09 L271.68,70.27 L272.14,70.45 L272.60,70.63 L273.06,70.80 L273.51,70.98 L273.97,71.16 L274.43,71.34 L274.88,71.52 L275.34,71.71 L275.80,71.89 L276.25,72.07 L276.71,72.25 L277.17,72.43 L277.62,72.62 L278.08,72.80 L278.54,72.99 L279.00,73.17 L279.45,73.36 L279.91,73.55 L280.37,73.73 L280.82,73.92 L281.28,74.11 L281.74,74.30 L282.19,74.49 L282.65,74.68 L283.11,74.87 L283.57,75.06 L284.02,75.25 L284.48,75.45 L284.94,75.64 L285.39,75.84 L285.85,76.03 L286.31,76.23 L286.76,76.42 L287.22,76.62 L287.68,76.82 L288.14,77.02 L288.59,77.21 L289.05,77.41 L289.51,77.62 L289.96,77.82 L290.42,78.02 L290.88,78.22 L291.33,78.43 L291.79,78.63 L292.25,78.84 L292.71,79.04 L293.16,79.25 L293.62,79.46 L294.08,79.67 L294.53,79.88 L294.99,80.09 L295.45,80.30 L295.90,80.51 L296.36,80.73 L296.82,80.94 L297.27,81.15 L297.73,81.37 L298.19,81.59 L298.65,81.81 L299.10,82.03 L299.56,82.25 L300.02,82.47 L300.47,82.69 L300.93,82.92 L301.39,83.14 L301.84,83.37 L302.30,83.59 L302.76,83.82 L303.22,84.05 L303.67,84.28 L304.13,84.51 L304.59,84.75 L305.04,84.98 L305.50,85.21 L305.96,85.45 L306.41,85.69 L306.87,85.93 L307.33,86.17 L307.79,86.41 L308.24,86.65 L308.70,86.89 L309.16,87.14 L309.61,87.38 L310.07,87.63 L310.53,87.88 L310.98,88.13 L311.44,88.38 L311.90,88.63 L312.36,88.88 L312.81,89.13 L313.27,89.39 L313.73,89.64 L314.18,89.90 L314.64,90.16 L315.10,90.42 L315.55,90.68 L316.01,90.94 L316.47,91.20 L316.92,91.46 L317.38,91.72 L317.84,91.99 L318.30,92.25 L318.75,92.52 L319.21,92.78 L319.67,93.05 L320.12,93.32 L320.58,93.59 L321.04,93.86 L321.49,94.13 L321.95,94.40 L322.41,94.67 L322.87,94.94 L323.32,95.21 L323.78,95.49 L324.24,95.76 L324.69,96.03 L325.15,96.31 L325.61,96.58 L326.06,96.86 L326.52,97.13 L326.98,97.41 L327.44,97.68 L327.89,97.96 L328.35,98.23 L328.81,98.51 L329.26,98.79 L329.72,99.06 L330.18,99.34 L330.63,99.62 L331.09,99.90 L331.55,100.17 L332.01,100.45 L332.46,100.73 L332.92,101.01 L333.38,101.29 L333.83,101.57 L334.29,101.85 L334.75,102.13 L335.20,102.41 L335.66,102.69 L336.12,102.97 L336.57,103.25 L337.03,103.53 L337.49,103.82 L337.95,104.10 L338.40,104.38 L338.86,104.67 L339.32,104.95 L339.77,105.24 L340.23,105.52 L340.69,105.81 L341.14,106.10 L341.60,106.38 L342.06,106.67 L342.52,106.96 L342.97,107.25 L343.43,107.54 L343.89,107.84 L344.34,108.13 L344.80,108.43 L345.26,108.72 L345.71,109.02 L346.17,109.32 L346.63,109.62 L347.09,109.92 L347.54,110.22 L348.00,110.52 L348.46,110.83 L348.91,111.13 L349.37,111.44 L349.83,111.75 L350.28,112.06 L350.74,112.37 L351.20,112.69 L351.66,113.00 L352.11,113.32 L352.57,113.64 L353.03,113.96 L353.48,114.29 L353.94,114.61 L354.40,114.94 L354.85,115.26 L355.31,115.59 L355.77,115.93 L356.22,116.26 L356.68,116.60 L357.14,116.93 L357.60,117.27 L358.05,117.62 L358.51,117.96 L358.97,118.30 L359.42,118.65 L359.88,119.00 L360.34,119.35 L360.79,119.71 L361.25,120.06 L361.71,120.42 L362.17,120.78 L362.62,121.14 L363.08,121.51 L363.54,121.87 L363.99,122.24 L364.45,122.61 L364.91,122.98 L365.36,123.36 L365.82,123.73 L366.28,124.11 L366.74,124.49 L367.19,124.87 L367.65,125.26 L368.11,125.64 L368.56,126.03 L369.02,126.42 L369.48,126.82 L369.93,127.21 L370.39,127.61 L370.85,128.01 L371.31,128.41 L371.76,128.81 L372.22,129.22 L372.68,129.62 L373.13,130.03 L373.59,130.44 L374.05,130.86 L374.50,131.27 L374.96,131.69 L375.42,132.11 L375.88,132.53 L376.33,132.96 L376.79,133.39 L377.25,133.81 L377.70,134.24 L378.16,134.68 L378.62,135.11 L379.07,135.55 L379.53,135.99 L379.99,136.43 L380.44,136.88 L380.90,137.32 L381.36,137.77 L381.82,138.22 L382.27,138.67 L382.73,139.13 L383.19,139.59 L383.64,140.05 L384.10,140.51 L384.56,140.97 L385.01,141.44 L385.47,141.91 L385.93,142.38 L386.39,142.85 L386.84,143.33 L387.30,143.81 L387.76,144.29 L388.21,144.77 L388.67,145.26 L389.13,145.74 L389.58,146.23 L390.04,146.73 L390.50,147.22 L390.96,147.72 L391.41,148.22 L391.87,148.72 L392.33,149.23 L392.78,149.74 L393.24,150.25 L393.70,150.76 L394.15,151.28 L394.61,151.79 L395.07,152.31 L395.53,152.84 L395.98,153.36 L396.44,153.89 L396.90,154.42 L397.35,154.96 L397.81,155.50 L398.27,156.04 L398.72,156.58 L399.18,157.12 L399.64,157.67 L400.09,158.22 L400.55,158.78 L401.01,159.33 L401.47,159.89 L401.92,160.45 L402.38,161.02 L402.84,161.59 L403.29,162.16 L403.75,162.73 L404.21,163.31 L404.66,163.89 L405.12,164.47 L405.58,165.06 L406.04,165.65 L406.49,166.24 L406.95,166.83 L407.41,167.43 L407.86,168.03 L408.32,168.64 L408.78,169.24 L409.23,169.86 L409.69,170.47 L410.15,171.09 L410.61,171.71 L411.06,172.33 L411.52,172.96 L411.98,173.59 L412.43,174.22 L412.89,174.86 L413.35,175.50 L413.80,176.14 L414.26,176.79 L414.72,177.44 L415.18,178.09 L415.63,178.75 L416.09,179.41 L416.55,180.08 L417.00,180.75 L417.46,181.42 L417.92,182.09 L418.37,182.77 L418.83,183.45 L419.29,184.14 L419.74,184.83 L420.20,185.52 L420.66,186.22 L421.12,186.92 L421.57,187.63 L422.03,188.34 L422.49,189.05 L422.94,189.76 L423.40,190.48 L423.86,191.21 L424.31,191.94 L424.77,192.67 L425.23,193.40 L425.69,194.14 L426.14,194.89 L426.60,195.63 L427.06,196.39 L427.51,197.14 L427.97,197.90 L428.43,198.67 L428.88,199.44 L429.34,200.21 L429.80,200.98 L430.26,201.77 L430.71,202.55 L431.17,203.34 L431.63,204.13 L432.08,204.93 L432.54,205.74 L433.00,206.54 L433.45,207.35 L433.91,208.17 L434.37,208.99 L434.83,209.82 L435.28,210.65 L435.74,211.48 L436.20,212.32 L436.65,213.16 L437.11,214.01 L437.57,214.86 L438.02,215.72 L438.48,216.58 L438.94,217.45 L439.39,218.32 L439.85,219.20 L440.31,220.08 L440.77,220.97 L441.22,221.86 L441.68,222.76 L442.14,223.66 L442.59,224.56 L443.05,225.48 L443.51,226.39 L443.96,227.32 L444.42,228.24 L444.88,229.17 L445.34,230.11 L445.79,231.06 L446.25,232.00 L446.71,232.96 L447.16,233.92 L447.62,234.88 L448.08,235.85 L448.53,236.82 L448.99,237.81 L449.45,238.79 L449.91,239.78 L450.36,240.78 L450.82,241.78 L451.28,242.79 L451.73,243.81 L452.19,244.83 L452.65,245.85 L453.10,246.88 L453.56,247.92 L454.02,248.97 L454.48,250.02 L454.93,251.07 L455.39,252.13 L455.85,253.20 L456.30,254.27 L456.76,255.35 L457.22,256.44 L457.67,257.53 L458.13,258.63 L458.59,259.73 L459.04,260.85 L459.50,261.96 L459.96,263.09 L460.42,264.22 L460.87,265.35 L461.33,266.50 L461.79,267.65 L462.24,268.80 L462.70,269.97 L463.16,271.14 L463.61,272.31 L464.07,273.50 L464.53,274.69 L464.99,275.88 L465.44,277.09 L465.90,278.30 L466.36,279.52 L466.81,280.74 L467.27,281.97 L467.73,283.21 L468.18,284.46 L468.64,285.71 L469.10,286.97 L469.56,288.24 L470.01,289.52 L470.47,290.80 L470.93,292.09 L471.38,293.39 L471.84,294.69 L472.30,296.01 L472.75,297.33 L473.21,298.66 L473.67,299.99 L474.13,301.34 L474.58,302.69 L475.04,304.05 L475.50,305.41 L475.95,306.79 L476.41,308.17 L476.87,309.57 L477.32,310.97 L477.78,312.37 L478.24,313.79 L478.70,315.21 L479.15,316.65 L479.61,318.09 L480.07,319.54 L480.52,321.00 L480.98,322.46 L481.44,323.94 L481.89,325.42 L482.35,326.92 L482.81,328.42 L483.26,329.93 L483.72,331.45 L484.18,332.98 L484.64,334.52 L485.09,336.06 L485.55,337.62 L486.01,339.18 L486.46,340.76" stroke="#000000"/>
</g>
<text class="sans" x="90.09" y="364.7">0.</text><path d="M7.5,0L10,0L10,-19.5L8.4,-19.5C7.6,-17.5 5.5,-15.5 2.5,-14.3L2.5,-12.2C4.5,-12.9 6.3,-14.1 7.5,-15.6Z" transform="translate(112.78,364.7)" fill="#000"/>
<text class="sans" x="226.83" y="364.7">0.5</text>
<path d="M7.5,0L10,0L10,-19.5L8.4,-19.5C7.6,-17.5 5.5,-15.5 2.5,-14.3L2.5,-12.2C4.5,-12.9 6.3,-14.1 7.5,-15.6Z" transform="translate(297.07,364.7)" fill="#000"/>
<text class="sans" x="433.81" y="364.7">5</text>
<path d="M7.5,0L10,0L10,-19.5L8.4,-19.5C7.6,-17.5 5.5,-15.5 2.5,-14.3L2.5,-12.2C4.5,-12.9 6.3,-14.1 7.5,-15.6Z" transform="translate(485.13,364.7)" fill="#000"/><text class="sans" x="500.26" y="364.7">0</text>
<text class="sans" x="621.17" y="364.7">50</text>
<path d="M7.5,0L10,0L10,-19.5L8.4,-19.5C7.6,-17.5 5.5,-15.5 2.5,-14.3L2.5,-12.2C4.5,-12.9 6.3,-14.1 7.5,-15.6Z" transform="translate(57.82,24.8)" fill="#000"/><text class="sans" x="72.95" y="24.8">00</text>
<path d="M7.5,0L10,0L10,-19.5L8.4,-19.5C7.6,-17.5 5.5,-15.5 2.5,-14.3L2.5,-12.2C4.5,-12.9 6.3,-14.1 7.5,-15.6Z" transform="translate(72.95,85.0)" fill="#000"/><text class="sans" x="88.07" y="85.0">0</text>
<path d="M7.5,0L10,0L10,-19.5L8.4,-19.5C7.6,-17.5 5.5,-15.5 2.5,-14.3L2.5,-12.2C4.5,-12.9 6.3,-14.1 7.5,-15.6Z" transform="translate(88.07,145.2)" fill="#000"/>
<text class="sans" x="65.39" y="205.4">0.</text><path d="M7.5,0L10,0L10,-19.5L8.4,-19.5C7.6,-17.5 5.5,-15.5 2.5,-14.3L2.5,-12.2C4.5,-12.9 6.3,-14.1 7.5,-15.6Z" transform="translate(88.07,205.4)" fill="#000"/>
<path d="M7.5,0L10,0L10,-19.5L8.4,-19.5C7.6,-17.5 5.5,-15.5 2.5,-14.3L2.5,-12.2C4.5,-12.9 6.3,-14.1 7.5,-15.6Z" transform="translate(47.35,265.7)" fill="#000"/><text class="sans" x="62.47" y="265.7">0</text><text class="sanssup" x="79.3" y="256.7">−2</text>
<path d="M7.5,0L10,0L10,-19.5L8.4,-19.5C7.6,-17.5 5.5,-15.5 2.5,-14.3L2.5,-12.2C4.5,-12.9 6.3,-14.1 7.5,-15.6Z" transform="translate(47.35,325.9)" fill="#000"/><text class="sans" x="62.47" y="325.9">0</text><text class="sanssup" x="79.3" y="316.9">−3</text>
<text class="serif" font-size="27.4px" x="298.5" y="407">Energy (keV)</text>
<text class="serif" transform="translate(30,297.3) rotate(-90)"><tspan font-size="27.0px" x="0.3" y="0">Photons</tspan><tspan font-size="26.6px" x="95.2" y="0">cm</tspan><tspan font-size="21px" x="125.6" y="-8.1">−</tspan><tspan font-size="19px" x="138.2" y="-10">2</tspan><tspan font-size="27.4px" x="150.5" y="0">s</tspan><tspan font-size="21px" x="161.1" y="-8.1">−</tspan><tspan font-size="19px" x="172.4" y="-10">1</tspan><tspan font-size="28px" x="184.6" y="0">keV</tspan><tspan font-size="21px" x="230.3" y="-8.1">−</tspan><tspan font-size="19px" x="242.2" y="-10">1</tspan></text>
<text class="serif" font-size="27.5px" y="44.6"><tspan x="335.5">a</tspan><tspan x="372">M</tspan><tspan x="403.5">=</tspan><tspan x="427.5">0.9</tspan></text>
<path d="M356.3,48.6L364.6,26.3" stroke="#000" stroke-width="1.5" fill="none"/>
<text class="serif" font-size="27.5px" y="75.3"><tspan x="335.5">i</tspan><tspan x="351.2">=</tspan><tspan x="375.4">45°</tspan></text>
<path d="M516,40.2H587.2" stroke="#aa00aa" stroke-width="3.0" fill="none" stroke-dasharray="21.5 20.5"/>
<text class="serif" font-size="21.5px" x="591" y="48.4">b<tspan class="sub" dy="3.8">2</tspan></text>
<path d="M516,63.8H587.2" stroke="#00aa00" stroke-width="3.0" fill="none" stroke-dasharray="11.8 10.2"/>
<text class="serif" font-size="21.5px" x="591" y="72.0">b<tspan class="sub" dy="3.8">4</tspan></text>
<path d="M516,87.4H587.2" stroke="#ff0000" stroke-width="3.0" fill="none" stroke-dasharray="7.8 4.9"/>
<text class="serif" font-size="21.5px" x="591" y="95.6">b<tspan class="sub" dy="3.8">5</tspan></text>
<path d="M516,111.05H587.2" stroke="#00ffff" stroke-width="3.0" fill="none" stroke-dasharray="4.6 2.7"/>
<text class="serif" font-size="21.5px" x="591" y="119.2">b<tspan class="sub" dy="3.8">7</tspan></text>
<path d="M516,134.6H587.2" stroke="#ff8000" stroke-width="3.0" fill="none" stroke-dasharray="4.7 4.6 10 4.7"/>
<text class="serif" font-size="21.5px" x="591" y="142.8">b<tspan class="sub" dy="3.8">8</tspan></text>
<path d="M516,158.0H587.2" stroke="#ffff00" stroke-width="3.0" fill="none"/>
<text class="serif" font-size="21.5px" x="591" y="166.2">b<tspan class="sub" dy="3.8">9</tspan></text>
<path d="M516,185.4H587.2" stroke="#0000aa" stroke-width="3.0" fill="none" stroke-dasharray="21.5 20.5"/>
<text class="serif" font-size="21.5px" x="591" y="192.4">b<tspan class="sub" dy="3.8">10</tspan></text>
<path d="M516,209.0H587.2" stroke="#ff8080" stroke-width="3.0" fill="none" stroke-dasharray="11.8 10.2"/>
<text class="serif" font-size="21.5px" x="591" y="216.9">b<tspan class="sub" dy="3.8">11</tspan></text>
<path d="M516,232.6H587.2" stroke="#000000" stroke-width="3.0" fill="none"/>
<text class="serif" font-size="21.5px" x="591" y="240.1">Kerr</text>
</svg></body></html>
